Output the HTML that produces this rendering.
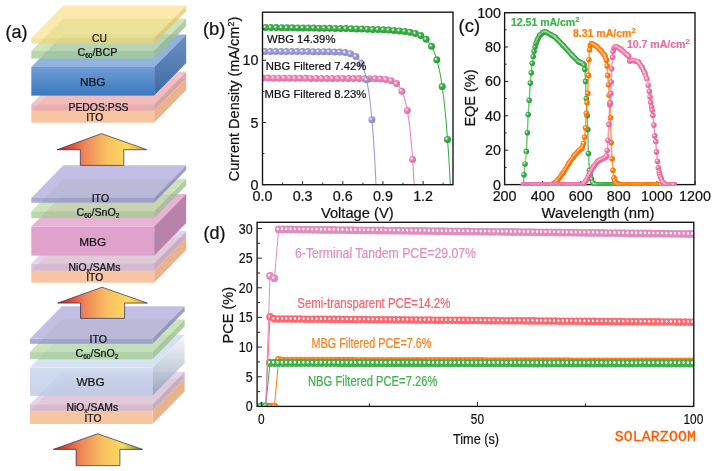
<!DOCTYPE html>
<html><head><meta charset="utf-8"><title>figure</title>
<style>html,body{margin:0;padding:0;background:#fff;}svg{display:block;will-change:transform;font-family:"Liberation Sans",sans-serif;}</style>
</head><body>
<svg width="716" height="471" viewBox="0 0 716 471">
<defs>
<radialGradient id="sg" cx="0.36" cy="0.38" r="0.62" fx="0.36" fy="0.38"><stop offset="0" stop-color="#fff"/><stop offset="0.12" stop-color="#c9efc9"/><stop offset="0.38" stop-color="#3fb24a"/><stop offset="1" stop-color="#2a9a38"/></radialGradient>
<radialGradient id="sb" cx="0.36" cy="0.38" r="0.62" fx="0.36" fy="0.38"><stop offset="0" stop-color="#fff"/><stop offset="0.12" stop-color="#e4e4f7"/><stop offset="0.38" stop-color="#9d9dd6"/><stop offset="1" stop-color="#8a8acb"/></radialGradient>
<radialGradient id="sp" cx="0.36" cy="0.38" r="0.62" fx="0.36" fy="0.38"><stop offset="0" stop-color="#fff"/><stop offset="0.12" stop-color="#fbd3e6"/><stop offset="0.38" stop-color="#ea86b6"/><stop offset="1" stop-color="#e070a6"/></radialGradient>
<radialGradient id="sp2" cx="0.36" cy="0.38" r="0.62" fx="0.36" fy="0.38"><stop offset="0" stop-color="#fff"/><stop offset="0.12" stop-color="#fbd3e6"/><stop offset="0.38" stop-color="#ee7aa9"/><stop offset="1" stop-color="#e66398"/></radialGradient>
<radialGradient id="so" cx="0.36" cy="0.38" r="0.62" fx="0.36" fy="0.38"><stop offset="0" stop-color="#fff"/><stop offset="0.12" stop-color="#ffe0bf"/><stop offset="0.38" stop-color="#ff7f0e"/><stop offset="1" stop-color="#f07000"/></radialGradient>
<radialGradient id="rp" cx="0.36" cy="0.42" r="0.5" fx="0.36" fy="0.42" gradientTransform="translate(0.36 0.42) scale(0.85 1) translate(-0.36 -0.42)"><stop offset="0" stop-color="#fff"/><stop offset="0.22" stop-color="#fff"/><stop offset="0.44" stop-color="#e28cbd"/><stop offset="1" stop-color="#e28cbd"/></radialGradient>
<radialGradient id="rr" cx="0.36" cy="0.42" r="0.5" fx="0.36" fy="0.42" gradientTransform="translate(0.36 0.42) scale(0.85 1) translate(-0.36 -0.42)"><stop offset="0" stop-color="#fff"/><stop offset="0.22" stop-color="#fff"/><stop offset="0.44" stop-color="#ff676e"/><stop offset="1" stop-color="#ff676e"/></radialGradient>
<radialGradient id="ro" cx="0.36" cy="0.42" r="0.5" fx="0.36" fy="0.42" gradientTransform="translate(0.36 0.42) scale(0.85 1) translate(-0.36 -0.42)"><stop offset="0" stop-color="#fff"/><stop offset="0.22" stop-color="#fff"/><stop offset="0.44" stop-color="#ff7f0e"/><stop offset="1" stop-color="#ff7f0e"/></radialGradient>
<radialGradient id="rg" cx="0.36" cy="0.42" r="0.5" fx="0.36" fy="0.42" gradientTransform="translate(0.36 0.42) scale(0.85 1) translate(-0.36 -0.42)"><stop offset="0" stop-color="#fff"/><stop offset="0.22" stop-color="#fff"/><stop offset="0.44" stop-color="#3fb24a"/><stop offset="1" stop-color="#3fb24a"/></radialGradient>
<linearGradient id="arr" x1="0" x2="1" y1="0" y2="0"><stop offset="0" stop-color="#d01414"/><stop offset="0.3" stop-color="#ee8456"/><stop offset="0.55" stop-color="#f8bf62"/><stop offset="0.78" stop-color="#fcd95c"/><stop offset="1" stop-color="#f0a030"/></linearGradient>
<linearGradient id="arr3" x1="0" x2="1" y1="0" y2="0"><stop offset="0" stop-color="#d01414"/><stop offset="0.3" stop-color="#ee8456"/><stop offset="0.55" stop-color="#f8bf62"/><stop offset="0.78" stop-color="#fcd95c"/><stop offset="1" stop-color="#6a8a20"/></linearGradient>
<linearGradient id="nbgf" x1="0" x2="0" y1="0" y2="1"><stop offset="0" stop-color="#6f9dd6"/><stop offset="1" stop-color="#3a78bf"/></linearGradient>
<linearGradient id="nbgr" x1="0" x2="0" y1="0" y2="1"><stop offset="0" stop-color="#6e8fbf"/><stop offset="1" stop-color="#3c6ca6"/></linearGradient>
<linearGradient id="wbgr" x1="0" x2="0" y1="0" y2="1"><stop offset="0" stop-color="#f4f6fa"/><stop offset="1" stop-color="#8fa2bd"/></linearGradient>
<linearGradient id="wbgf" x1="0" x2="0" y1="0" y2="1"><stop offset="0" stop-color="#c9d8ee"/><stop offset="1" stop-color="#bccbe6"/></linearGradient>
</defs>
<rect width="716" height="471" fill="#fff"/>
<g opacity="0.999">
<g opacity="1.0"><polygon points="31.3,111 154.2,111 186.2,78.4 63.3,78.4" fill="#f9d2b3"/><polygon points="154.2,111 186.2,78.4 186.2,90.10000000000001 154.2,122.7" fill="#e9b38c"/><rect x="31.3" y="111" width="122.89999999999999" height="11.7" fill="#f7c5a2"/></g>
<g opacity="0.8"><polygon points="31.3,104.4 154.2,104.4 186.2,71.80000000000001 63.3,71.80000000000001" fill="#efb8bf"/><polygon points="154.2,104.4 186.2,71.80000000000001 186.2,78.20000000000002 154.2,110.80000000000001" fill="#d695a2"/><rect x="31.3" y="104.4" width="122.89999999999999" height="6.4" fill="#e6a4b0"/></g>
<g opacity="1.0"><polygon points="31.3,67 154.2,67 186.2,34.4 63.3,34.4" fill="#92b3de"/><polygon points="154.2,67 186.2,34.4 186.2,63.0 154.2,95.6" fill="url(#nbgr)"/><rect x="31.3" y="67" width="122.89999999999999" height="28.6" fill="url(#nbgf)"/></g>
<g opacity="0.8"><polygon points="31.3,51 154.2,51 186.2,18.4 63.3,18.4" fill="#c0dcac"/><polygon points="154.2,51 186.2,18.4 186.2,26.0 154.2,58.6" fill="#9dc08b"/><rect x="31.3" y="51" width="122.89999999999999" height="7.6" fill="#a6cd95"/></g>
<g opacity="0.7"><polygon points="31.3,38.2 154.2,38.2 186.2,5.600000000000001 63.3,5.600000000000001" fill="#fbe08a"/><polygon points="154.2,38.2 186.2,5.600000000000001 186.2,11.000000000000002 154.2,43.6" fill="#e2c25e"/><rect x="31.3" y="38.2" width="122.89999999999999" height="5.4" fill="#f3d470"/></g>
<text x="99.4" y="42.4" font-size="10.2" text-anchor="middle" fill="#111" stroke="#111" stroke-width="0.22" font-weight="normal" >CU</text>
<text x="97.4" y="55.5" font-size="10.7" text-anchor="middle" fill="#111" stroke="#111" stroke-width="0.22" font-weight="normal" >C<tspan font-size="6.5" dy="2">60</tspan><tspan dy="-2">/BCP</tspan></text>
<text x="92.7" y="86" font-size="11.8" text-anchor="middle" fill="#111" stroke="#111" stroke-width="0.22" font-weight="normal" >NBG</text>
<text x="98.5" y="111" font-size="10.4" text-anchor="middle" fill="#111" stroke="#111" stroke-width="0.22" font-weight="normal" >PEDOS:PSS</text>
<text x="94.7" y="121.3" font-size="10.3" text-anchor="middle" fill="#111" stroke="#111" stroke-width="0.22" font-weight="normal" >ITO</text>
<g opacity="1.0"><polygon points="31.3,270.7 154.2,270.7 186.2,238.1 63.3,238.1" fill="#f9d2b3"/><polygon points="154.2,270.7 186.2,238.1 186.2,250.1 154.2,282.7" fill="#e9b38c"/><rect x="31.3" y="270.7" width="122.89999999999999" height="12" fill="#f7c5a2"/></g>
<g opacity="0.78"><polygon points="31.3,263.6 154.2,263.6 186.2,231.00000000000003 63.3,231.00000000000003" fill="#dac8e6"/><polygon points="154.2,263.6 186.2,231.00000000000003 186.2,238.10000000000002 154.2,270.70000000000005" fill="#baa2c9"/><rect x="31.3" y="263.6" width="122.89999999999999" height="7.1" fill="#cab2d9"/></g>
<g opacity="1.0"><polygon points="31.3,226.5 154.2,226.5 186.2,193.9 63.3,193.9" fill="#e9b3d6"/><polygon points="154.2,226.5 186.2,193.9 186.2,223.0 154.2,255.6" fill="#b883aa"/><rect x="31.3" y="226.5" width="122.89999999999999" height="29.1" fill="#dea2cd"/></g>
<g opacity="0.8"><polygon points="31.3,211.4 154.2,211.4 186.2,178.8 63.3,178.8" fill="#c0dcac"/><polygon points="154.2,211.4 186.2,178.8 186.2,185.5 154.2,218.1" fill="#9dc08b"/><rect x="31.3" y="211.4" width="122.89999999999999" height="6.7" fill="#a6cd95"/></g>
<g opacity="0.82"><polygon points="31.3,197.9 154.2,197.9 186.2,165.3 63.3,165.3" fill="#b6b1de"/><polygon points="154.2,197.9 186.2,165.3 186.2,170.10000000000002 154.2,202.70000000000002" fill="#8a86be"/><rect x="31.3" y="197.9" width="122.89999999999999" height="4.8" fill="#9a96cf"/></g>
<text x="100.4" y="201.8" font-size="10.6" text-anchor="middle" fill="#111" stroke="#111" stroke-width="0.22" font-weight="normal" >ITO</text>
<text x="98" y="215.5" font-size="10.7" text-anchor="middle" fill="#111" stroke="#111" stroke-width="0.22" font-weight="normal" >C<tspan font-size="6.5" dy="2">60</tspan><tspan dy="-2">/SnO</tspan><tspan font-size="6.5" dy="2">2</tspan></text>
<text x="92.7" y="245.5" font-size="11.8" text-anchor="middle" fill="#111" stroke="#111" stroke-width="0.22" font-weight="normal" >MBG</text>
<text x="94.5" y="270.7" font-size="10.4" text-anchor="middle" fill="#111" stroke="#111" stroke-width="0.22" font-weight="normal" >NiO<tspan font-size="6.5" dy="2">x</tspan><tspan dy="-2">/SAMs</tspan></text>
<text x="94.7" y="281.1" font-size="10.3" text-anchor="middle" fill="#111" stroke="#111" stroke-width="0.22" font-weight="normal" >ITO</text>
<g opacity="1.0"><polygon points="29.9,411 152.6,411 184.6,378.4 61.9,378.4" fill="#f9d2b3"/><polygon points="152.6,411 184.6,378.4 184.6,391.4 152.6,424" fill="#e9b38c"/><rect x="29.9" y="411" width="122.69999999999999" height="13" fill="#f7c5a2"/></g>
<g opacity="0.78"><polygon points="29.9,404.4 152.6,404.4 184.6,371.79999999999995 61.9,371.79999999999995" fill="#dac8e6"/><polygon points="152.6,404.4 184.6,371.79999999999995 184.6,378.19999999999993 152.6,410.79999999999995" fill="#baa2c9"/><rect x="29.9" y="404.4" width="122.69999999999999" height="6.4" fill="#cab2d9"/></g>
<g opacity="0.85"><polygon points="29.9,367.6 152.6,367.6 184.6,335.0 61.9,335.0" fill="#cfdcf0"/><polygon points="152.6,367.6 184.6,335.0 184.6,363.2 152.6,395.8" fill="url(#wbgr)"/><rect x="29.9" y="367.6" width="122.69999999999999" height="28.2" fill="url(#wbgf)"/></g>
<g opacity="0.8"><polygon points="29.9,352.1 152.6,352.1 184.6,319.5 61.9,319.5" fill="#c0dcac"/><polygon points="152.6,352.1 184.6,319.5 184.6,326.6 152.6,359.20000000000005" fill="#9dc08b"/><rect x="29.9" y="352.1" width="122.69999999999999" height="7.1" fill="#a6cd95"/></g>
<g opacity="0.82"><polygon points="29.9,338.8 152.6,338.8 184.6,306.2 61.9,306.2" fill="#b6b1de"/><polygon points="152.6,338.8 184.6,306.2 184.6,311.2 152.6,343.8" fill="#8a86be"/><rect x="29.9" y="338.8" width="122.69999999999999" height="5" fill="#9a96cf"/></g>
<text x="98.2" y="343.3" font-size="10.6" text-anchor="middle" fill="#111" stroke="#111" stroke-width="0.22" font-weight="normal" >ITO</text>
<text x="97" y="356.5" font-size="10.7" text-anchor="middle" fill="#111" stroke="#111" stroke-width="0.22" font-weight="normal" >C<tspan font-size="6.5" dy="2">60</tspan><tspan dy="-2">/SnO</tspan><tspan font-size="6.5" dy="2">2</tspan></text>
<text x="90.5" y="386" font-size="11.8" text-anchor="middle" fill="#111" stroke="#111" stroke-width="0.22" font-weight="normal" >WBG</text>
<text x="92.3" y="411.3" font-size="10.4" text-anchor="middle" fill="#111" stroke="#111" stroke-width="0.22" font-weight="normal" >NiO<tspan font-size="6.5" dy="2">x</tspan><tspan dy="-2">/SAMs</tspan></text>
<text x="93" y="421.8" font-size="10.3" text-anchor="middle" fill="#111" stroke="#111" stroke-width="0.22" font-weight="normal" >ITO</text>
<polygon points="101.5,133.6 146.7,149.7 123.8,149.7 123.8,165.4 80.3,165.4 80.3,149.7 57,149.7" fill="url(#arr)" stroke="#1f2a5a" stroke-width="0.7" stroke-linejoin="miter"/>
<polygon points="102,287.2 147.4,303.1 124.6,303.1 124.6,318.4 80.5,318.4 80.5,303.1 57.7,303.1" fill="url(#arr)" stroke="#1f2a5a" stroke-width="0.7" stroke-linejoin="miter"/>
<polygon points="97.6,433.8 142.6,449.4 119.9,449.4 119.9,465.6 76.1,465.6 76.1,449.4 53.2,449.4" fill="url(#arr3)" stroke="#1f2a5a" stroke-width="0.7" stroke-linejoin="miter"/>
<text x="5.6" y="38.2" font-size="18" text-anchor="start" fill="#111" stroke="#111" stroke-width="0.22" font-weight="normal" >(a)</text>
<text x="203.0" y="34.6" font-size="18.4" text-anchor="start" fill="#111" stroke="#111" stroke-width="0.22" font-weight="normal" >(b)</text>
<text x="458.6" y="31.8" font-size="18.4" text-anchor="start" fill="#111" stroke="#111" stroke-width="0.22" font-weight="normal" >(c)</text>
<text x="203.5" y="238.6" font-size="18" text-anchor="start" fill="#111" stroke="#111" stroke-width="0.22" font-weight="normal" >(d)</text>
<clipPath id="cb"><rect x="262.5" y="12.2" width="190.5" height="173.0"/></clipPath>
<g clip-path="url(#cb)">
<polyline fill="none" stroke="#ea86b6" stroke-width="1.1" points="262.5,78.1 263.2,78.1 263.8,78.1 264.5,78.1 265.2,78.1 265.8,78.1 266.5,78.1 267.2,78.1 267.9,78.1 268.5,78.1 269.2,78.1 269.9,78.1 270.5,78.1 271.2,78.1 271.9,78.1 272.5,78.1 273.2,78.1 273.9,78.2 274.5,78.2 275.2,78.2 275.9,78.2 276.5,78.2 277.2,78.2 277.9,78.2 278.6,78.2 279.2,78.2 279.9,78.2 280.6,78.2 281.2,78.2 281.9,78.2 282.6,78.2 283.2,78.2 283.9,78.2 284.6,78.2 285.2,78.2 285.9,78.2 286.6,78.2 287.3,78.2 287.9,78.2 288.6,78.2 289.3,78.2 289.9,78.2 290.6,78.2 291.3,78.2 291.9,78.3 292.6,78.3 293.3,78.3 293.9,78.3 294.6,78.3 295.3,78.3 295.9,78.3 296.6,78.3 297.3,78.3 298.0,78.3 298.6,78.3 299.3,78.3 300.0,78.3 300.6,78.3 301.3,78.3 302.0,78.3 302.6,78.3 303.3,78.3 304.0,78.3 304.6,78.3 305.3,78.3 306.0,78.3 306.7,78.3 307.3,78.3 308.0,78.3 308.7,78.3 309.3,78.4 310.0,78.4 310.7,78.4 311.3,78.4 312.0,78.4 312.7,78.4 313.3,78.4 314.0,78.4 314.7,78.4 315.4,78.4 316.0,78.4 316.7,78.4 317.4,78.4 318.0,78.4 318.7,78.4 319.4,78.4 320.0,78.4 320.7,78.4 321.4,78.4 322.0,78.4 322.7,78.4 323.4,78.4 324.0,78.4 324.7,78.4 325.4,78.4 326.1,78.4 326.7,78.4 327.4,78.5 328.1,78.5 328.7,78.5 329.4,78.5 330.1,78.5 330.7,78.5 331.4,78.5 332.1,78.5 332.7,78.5 333.4,78.5 334.1,78.5 334.8,78.5 335.4,78.5 336.1,78.5 336.8,78.5 337.4,78.5 338.1,78.5 338.8,78.5 339.4,78.5 340.1,78.5 340.8,78.5 341.4,78.5 342.1,78.5 342.8,78.5 343.4,78.5 344.1,78.5 344.8,78.5 345.5,78.6 346.1,78.6 346.8,78.6 347.5,78.6 348.1,78.6 348.8,78.6 349.5,78.6 350.1,78.6 350.8,78.6 351.5,78.6 352.1,78.6 352.8,78.6 353.5,78.6 354.2,78.6 354.8,78.6 355.5,78.6 356.2,78.6 356.8,78.6 357.5,78.6 358.2,78.6 358.8,78.6 359.5,78.6 360.2,78.6 360.8,78.6 361.5,78.7 362.2,78.7 362.9,78.7 363.5,78.7 364.2,78.7 364.9,78.7 365.5,78.7 366.2,78.7 366.9,78.7 367.5,78.7 368.2,78.7 368.9,78.7 369.5,78.7 370.2,78.7 370.9,78.7 371.5,78.8 372.2,78.8 372.9,78.8 373.6,78.8 374.2,78.8 374.9,78.8 375.6,78.8 376.2,78.9 376.9,78.9 377.6,78.9 378.2,78.9 378.9,79.0 379.6,79.0 380.2,79.0 380.9,79.1 381.6,79.1 382.3,79.1 382.9,79.2 383.6,79.3 384.3,79.3 384.9,79.4 385.6,79.5 386.3,79.6 386.9,79.7 387.6,79.8 388.3,79.9 388.9,80.1 389.6,80.2 390.3,80.4 390.9,80.6 391.6,80.8 392.3,81.1 393.0,81.4 393.6,81.7 394.3,82.1 395.0,82.5 395.6,82.9 396.3,83.4 397.0,84.0 397.6,84.6 398.3,85.4 399.0,86.2 399.6,87.1 400.3,88.1 401.0,89.3 401.7,90.6 402.3,92.1 403.0,93.7 403.7,95.6 404.3,97.7 405.0,100.0 405.7,102.6 406.3,105.6 407.0,108.9 407.7,112.7 408.3,116.9 409.0,121.6 409.7,126.9 410.3,132.9 411.0,139.6 411.7,147.2 412.4,155.7 413.0,165.3 413.7,176.0 414.4,188.1"/>
<circle cx="257.4" cy="78.1" r="3.5" fill="url(#sp)"/>
<circle cx="262.8" cy="78.1" r="3.5" fill="url(#sp)"/>
<circle cx="268.1" cy="78.1" r="3.5" fill="url(#sp)"/>
<circle cx="273.5" cy="78.2" r="3.5" fill="url(#sp)"/>
<circle cx="278.8" cy="78.2" r="3.5" fill="url(#sp)"/>
<circle cx="284.2" cy="78.2" r="3.5" fill="url(#sp)"/>
<circle cx="289.5" cy="78.2" r="3.5" fill="url(#sp)"/>
<circle cx="294.9" cy="78.3" r="3.5" fill="url(#sp)"/>
<circle cx="300.2" cy="78.3" r="3.5" fill="url(#sp)"/>
<circle cx="305.6" cy="78.3" r="3.5" fill="url(#sp)"/>
<circle cx="310.9" cy="78.4" r="3.5" fill="url(#sp)"/>
<circle cx="316.3" cy="78.4" r="3.5" fill="url(#sp)"/>
<circle cx="321.6" cy="78.4" r="3.5" fill="url(#sp)"/>
<circle cx="327.0" cy="78.4" r="3.5" fill="url(#sp)"/>
<circle cx="332.3" cy="78.5" r="3.5" fill="url(#sp)"/>
<circle cx="337.7" cy="78.5" r="3.5" fill="url(#sp)"/>
<circle cx="343.0" cy="78.5" r="3.5" fill="url(#sp)"/>
<circle cx="348.4" cy="78.6" r="3.5" fill="url(#sp)"/>
<circle cx="353.8" cy="78.6" r="3.5" fill="url(#sp)"/>
<circle cx="359.1" cy="78.6" r="3.5" fill="url(#sp)"/>
<circle cx="364.5" cy="78.7" r="3.5" fill="url(#sp)"/>
<circle cx="369.8" cy="78.7" r="3.5" fill="url(#sp)"/>
<circle cx="375.2" cy="78.8" r="3.5" fill="url(#sp)"/>
<circle cx="380.5" cy="79.0" r="3.5" fill="url(#sp)"/>
<circle cx="385.9" cy="79.5" r="3.5" fill="url(#sp)"/>
<circle cx="391.2" cy="80.7" r="3.5" fill="url(#sp)"/>
<circle cx="396.6" cy="83.6" r="3.5" fill="url(#sp)"/>
<circle cx="401.9" cy="91.2" r="3.5" fill="url(#sp)"/>
<circle cx="407.3" cy="110.4" r="3.5" fill="url(#sp)"/>
<circle cx="412.6" cy="159.4" r="3.5" fill="url(#sp)"/>
</g>
<g clip-path="url(#cb)">
<polyline fill="none" stroke="#9d9dd6" stroke-width="1.1" points="262.5,51.5 263.2,51.5 263.8,51.5 264.5,51.5 265.2,51.5 265.8,51.5 266.5,51.5 267.2,51.5 267.9,51.5 268.5,51.5 269.2,51.5 269.9,51.5 270.5,51.5 271.2,51.5 271.9,51.5 272.5,51.5 273.2,51.5 273.9,51.5 274.5,51.5 275.2,51.5 275.9,51.5 276.5,51.5 277.2,51.5 277.9,51.5 278.6,51.5 279.2,51.5 279.9,51.5 280.6,51.5 281.2,51.5 281.9,51.5 282.6,51.5 283.2,51.5 283.9,51.5 284.6,51.5 285.2,51.6 285.9,51.6 286.6,51.6 287.3,51.6 287.9,51.6 288.6,51.6 289.3,51.6 289.9,51.6 290.6,51.6 291.3,51.6 291.9,51.6 292.6,51.6 293.3,51.6 293.9,51.6 294.6,51.6 295.3,51.6 295.9,51.6 296.6,51.6 297.3,51.6 298.0,51.6 298.6,51.6 299.3,51.6 300.0,51.6 300.6,51.6 301.3,51.6 302.0,51.6 302.6,51.6 303.3,51.6 304.0,51.6 304.6,51.6 305.3,51.6 306.0,51.6 306.7,51.6 307.3,51.6 308.0,51.6 308.7,51.6 309.3,51.6 310.0,51.6 310.7,51.6 311.3,51.7 312.0,51.7 312.7,51.7 313.3,51.7 314.0,51.7 314.7,51.7 315.4,51.7 316.0,51.7 316.7,51.7 317.4,51.7 318.0,51.7 318.7,51.7 319.4,51.7 320.0,51.7 320.7,51.7 321.4,51.7 322.0,51.7 322.7,51.7 323.4,51.7 324.0,51.7 324.7,51.7 325.4,51.7 326.1,51.7 326.7,51.7 327.4,51.8 328.1,51.8 328.7,51.8 329.4,51.8 330.1,51.8 330.7,51.8 331.4,51.8 332.1,51.8 332.7,51.8 333.4,51.8 334.1,51.9 334.8,51.9 335.4,51.9 336.1,51.9 336.8,51.9 337.4,52.0 338.1,52.0 338.8,52.0 339.4,52.1 340.1,52.1 340.8,52.1 341.4,52.2 342.1,52.2 342.8,52.3 343.4,52.4 344.1,52.4 344.8,52.5 345.5,52.6 346.1,52.7 346.8,52.8 347.5,52.9 348.1,53.1 348.8,53.2 349.5,53.4 350.1,53.6 350.8,53.8 351.5,54.1 352.1,54.3 352.8,54.6 353.5,55.0 354.2,55.3 354.8,55.8 355.5,56.2 356.2,56.7 356.8,57.3 357.5,58.0 358.2,58.7 358.8,59.5 359.5,60.4 360.2,61.4 360.8,62.6 361.5,63.8 362.2,65.2 362.9,66.8 363.5,68.6 364.2,70.6 364.9,72.8 365.5,75.2 366.2,78.0 366.9,81.0 367.5,84.5 368.2,88.3 368.9,92.6 369.5,97.4 370.2,102.7 370.9,108.7 371.5,115.4 372.2,122.9 372.9,131.2 373.6,140.5 374.2,150.9 374.9,162.6 375.6,175.6 376.2,190.1"/>
<circle cx="259.6" cy="51.5" r="3.5" fill="url(#sb)"/>
<circle cx="264.9" cy="51.5" r="3.5" fill="url(#sb)"/>
<circle cx="270.3" cy="51.5" r="3.5" fill="url(#sb)"/>
<circle cx="275.6" cy="51.5" r="3.5" fill="url(#sb)"/>
<circle cx="281.0" cy="51.5" r="3.5" fill="url(#sb)"/>
<circle cx="286.3" cy="51.6" r="3.5" fill="url(#sb)"/>
<circle cx="291.7" cy="51.6" r="3.5" fill="url(#sb)"/>
<circle cx="297.0" cy="51.6" r="3.5" fill="url(#sb)"/>
<circle cx="302.4" cy="51.6" r="3.5" fill="url(#sb)"/>
<circle cx="307.7" cy="51.6" r="3.5" fill="url(#sb)"/>
<circle cx="313.1" cy="51.7" r="3.5" fill="url(#sb)"/>
<circle cx="318.4" cy="51.7" r="3.5" fill="url(#sb)"/>
<circle cx="323.8" cy="51.7" r="3.5" fill="url(#sb)"/>
<circle cx="329.1" cy="51.8" r="3.5" fill="url(#sb)"/>
<circle cx="334.5" cy="51.9" r="3.5" fill="url(#sb)"/>
<circle cx="339.8" cy="52.1" r="3.5" fill="url(#sb)"/>
<circle cx="345.2" cy="52.6" r="3.5" fill="url(#sb)"/>
<circle cx="350.5" cy="53.7" r="3.5" fill="url(#sb)"/>
<circle cx="355.9" cy="56.5" r="3.5" fill="url(#sb)"/>
<circle cx="361.2" cy="63.3" r="3.5" fill="url(#sb)"/>
<circle cx="366.6" cy="79.8" r="3.5" fill="url(#sb)"/>
<circle cx="371.9" cy="119.8" r="3.5" fill="url(#sb)"/>
</g>
<g clip-path="url(#cb)">
<polyline fill="none" stroke="#3fb24a" stroke-width="1.1" points="262.5,27.5 263.2,27.5 263.8,27.5 264.5,27.5 265.2,27.5 265.8,27.5 266.5,27.5 267.2,27.5 267.9,27.5 268.5,27.6 269.2,27.6 269.9,27.6 270.5,27.6 271.2,27.6 271.9,27.6 272.5,27.6 273.2,27.6 273.9,27.6 274.5,27.6 275.2,27.6 275.9,27.6 276.5,27.6 277.2,27.6 277.9,27.7 278.6,27.7 279.2,27.7 279.9,27.7 280.6,27.7 281.2,27.7 281.9,27.7 282.6,27.7 283.2,27.7 283.9,27.7 284.6,27.7 285.2,27.7 285.9,27.7 286.6,27.7 287.3,27.8 287.9,27.8 288.6,27.8 289.3,27.8 289.9,27.8 290.6,27.8 291.3,27.8 291.9,27.8 292.6,27.8 293.3,27.8 293.9,27.8 294.6,27.8 295.3,27.8 295.9,27.9 296.6,27.9 297.3,27.9 298.0,27.9 298.6,27.9 299.3,27.9 300.0,27.9 300.6,27.9 301.3,27.9 302.0,27.9 302.6,27.9 303.3,27.9 304.0,28.0 304.6,28.0 305.3,28.0 306.0,28.0 306.7,28.0 307.3,28.0 308.0,28.0 308.7,28.0 309.3,28.0 310.0,28.0 310.7,28.0 311.3,28.1 312.0,28.1 312.7,28.1 313.3,28.1 314.0,28.1 314.7,28.1 315.4,28.1 316.0,28.1 316.7,28.1 317.4,28.1 318.0,28.1 318.7,28.2 319.4,28.2 320.0,28.2 320.7,28.2 321.4,28.2 322.0,28.2 322.7,28.2 323.4,28.2 324.0,28.2 324.7,28.2 325.4,28.3 326.1,28.3 326.7,28.3 327.4,28.3 328.1,28.3 328.7,28.3 329.4,28.3 330.1,28.3 330.7,28.3 331.4,28.4 332.1,28.4 332.7,28.4 333.4,28.4 334.1,28.4 334.8,28.4 335.4,28.4 336.1,28.4 336.8,28.4 337.4,28.5 338.1,28.5 338.8,28.5 339.4,28.5 340.1,28.5 340.8,28.5 341.4,28.5 342.1,28.5 342.8,28.6 343.4,28.6 344.1,28.6 344.8,28.6 345.5,28.6 346.1,28.6 346.8,28.6 347.5,28.7 348.1,28.7 348.8,28.7 349.5,28.7 350.1,28.7 350.8,28.7 351.5,28.8 352.1,28.8 352.8,28.8 353.5,28.8 354.2,28.8 354.8,28.8 355.5,28.8 356.2,28.9 356.8,28.9 357.5,28.9 358.2,28.9 358.8,28.9 359.5,29.0 360.2,29.0 360.8,29.0 361.5,29.0 362.2,29.0 362.9,29.0 363.5,29.1 364.2,29.1 364.9,29.1 365.5,29.1 366.2,29.1 366.9,29.2 367.5,29.2 368.2,29.2 368.9,29.2 369.5,29.3 370.2,29.3 370.9,29.3 371.5,29.3 372.2,29.3 372.9,29.4 373.6,29.4 374.2,29.4 374.9,29.4 375.6,29.5 376.2,29.5 376.9,29.5 377.6,29.6 378.2,29.6 378.9,29.6 379.6,29.6 380.2,29.7 380.9,29.7 381.6,29.7 382.3,29.8 382.9,29.8 383.6,29.8 384.3,29.9 384.9,29.9 385.6,29.9 386.3,30.0 386.9,30.0 387.6,30.0 388.3,30.1 388.9,30.1 389.6,30.1 390.3,30.2 390.9,30.2 391.6,30.3 392.3,30.3 393.0,30.4 393.6,30.4 394.3,30.4 395.0,30.5 395.6,30.5 396.3,30.6 397.0,30.6 397.6,30.7 398.3,30.8 399.0,30.8 399.6,30.9 400.3,30.9 401.0,31.0 401.7,31.1 402.3,31.1 403.0,31.2 403.7,31.3 404.3,31.4 405.0,31.5 405.7,31.5 406.3,31.6 407.0,31.7 407.7,31.8 408.3,31.9 409.0,32.0 409.7,32.2 410.3,32.3 411.0,32.4 411.7,32.5 412.4,32.7 413.0,32.8 413.7,33.0 414.4,33.2 415.0,33.4 415.7,33.6 416.4,33.8 417.0,34.0 417.7,34.2 418.4,34.5 419.0,34.8 419.7,35.1 420.4,35.4 421.1,35.7 421.7,36.1 422.4,36.5 423.1,36.9 423.7,37.4 424.4,37.8 425.1,38.4 425.7,39.0 426.4,39.6 427.1,40.2 427.7,41.0 428.4,41.8 429.1,42.6 429.8,43.5 430.4,44.5 431.1,45.6 431.8,46.8 432.4,48.1 433.1,49.5 433.8,51.0 434.4,52.6 435.1,54.4 435.8,56.3 436.4,58.4 437.1,60.7 437.8,63.2 438.4,66.0 439.1,68.9 439.8,72.2 440.5,75.7 441.1,79.5 441.8,83.7 442.5,88.2 443.1,93.2 443.8,98.6 444.5,104.5 445.1,111.0 445.8,118.0 446.5,125.7 447.1,134.0 447.8,143.1 448.5,153.1 449.2,164.0 449.8,175.8 450.5,188.7"/>
<circle cx="260.2" cy="27.5" r="3.5" fill="url(#sg)"/>
<circle cx="265.6" cy="27.5" r="3.5" fill="url(#sg)"/>
<circle cx="270.9" cy="27.6" r="3.5" fill="url(#sg)"/>
<circle cx="276.3" cy="27.6" r="3.5" fill="url(#sg)"/>
<circle cx="281.6" cy="27.7" r="3.5" fill="url(#sg)"/>
<circle cx="287.0" cy="27.8" r="3.5" fill="url(#sg)"/>
<circle cx="292.3" cy="27.8" r="3.5" fill="url(#sg)"/>
<circle cx="297.7" cy="27.9" r="3.5" fill="url(#sg)"/>
<circle cx="303.0" cy="27.9" r="3.5" fill="url(#sg)"/>
<circle cx="308.4" cy="28.0" r="3.5" fill="url(#sg)"/>
<circle cx="313.7" cy="28.1" r="3.5" fill="url(#sg)"/>
<circle cx="319.1" cy="28.2" r="3.5" fill="url(#sg)"/>
<circle cx="324.4" cy="28.2" r="3.5" fill="url(#sg)"/>
<circle cx="329.8" cy="28.3" r="3.5" fill="url(#sg)"/>
<circle cx="335.2" cy="28.4" r="3.5" fill="url(#sg)"/>
<circle cx="340.5" cy="28.5" r="3.5" fill="url(#sg)"/>
<circle cx="345.9" cy="28.6" r="3.5" fill="url(#sg)"/>
<circle cx="351.2" cy="28.7" r="3.5" fill="url(#sg)"/>
<circle cx="356.6" cy="28.9" r="3.5" fill="url(#sg)"/>
<circle cx="361.9" cy="29.0" r="3.5" fill="url(#sg)"/>
<circle cx="367.3" cy="29.2" r="3.5" fill="url(#sg)"/>
<circle cx="372.6" cy="29.4" r="3.5" fill="url(#sg)"/>
<circle cx="378.0" cy="29.6" r="3.5" fill="url(#sg)"/>
<circle cx="383.3" cy="29.8" r="3.5" fill="url(#sg)"/>
<circle cx="388.7" cy="30.1" r="3.5" fill="url(#sg)"/>
<circle cx="394.0" cy="30.4" r="3.5" fill="url(#sg)"/>
<circle cx="399.4" cy="30.9" r="3.5" fill="url(#sg)"/>
<circle cx="404.7" cy="31.4" r="3.5" fill="url(#sg)"/>
<circle cx="410.1" cy="32.2" r="3.5" fill="url(#sg)"/>
<circle cx="415.4" cy="33.5" r="3.5" fill="url(#sg)"/>
<circle cx="420.8" cy="35.6" r="3.5" fill="url(#sg)"/>
<circle cx="426.1" cy="39.3" r="3.5" fill="url(#sg)"/>
<circle cx="431.5" cy="46.3" r="3.5" fill="url(#sg)"/>
<circle cx="436.8" cy="59.8" r="3.5" fill="url(#sg)"/>
<circle cx="442.2" cy="86.4" r="3.5" fill="url(#sg)"/>
<circle cx="447.5" cy="139.4" r="3.5" fill="url(#sg)"/>
</g>
<rect x="262.5" y="12.2" width="190.5" height="172.5" fill="none" stroke="#111" stroke-width="1.35"/>
<line x1="262.5" x2="262.5" y1="184.7" y2="181.1" stroke="#222" stroke-width="1"/>
<text x="262.5" y="200.9" font-size="14.3" text-anchor="middle" fill="#111" stroke="#111" stroke-width="0.22" font-weight="normal" >0.0</text>
<line x1="302.6" x2="302.6" y1="184.7" y2="181.1" stroke="#222" stroke-width="1"/>
<text x="302.6" y="200.9" font-size="14.3" text-anchor="middle" fill="#111" stroke="#111" stroke-width="0.22" font-weight="normal" >0.3</text>
<line x1="342.8" x2="342.8" y1="184.7" y2="181.1" stroke="#222" stroke-width="1"/>
<text x="342.8" y="200.9" font-size="14.3" text-anchor="middle" fill="#111" stroke="#111" stroke-width="0.22" font-weight="normal" >0.6</text>
<line x1="382.9" x2="382.9" y1="184.7" y2="181.1" stroke="#222" stroke-width="1"/>
<text x="382.9" y="200.9" font-size="14.3" text-anchor="middle" fill="#111" stroke="#111" stroke-width="0.22" font-weight="normal" >0.9</text>
<line x1="423.1" x2="423.1" y1="184.7" y2="181.1" stroke="#222" stroke-width="1"/>
<text x="423.1" y="200.9" font-size="14.3" text-anchor="middle" fill="#111" stroke="#111" stroke-width="0.22" font-weight="normal" >1.2</text>
<line x1="282.6" x2="282.6" y1="184.7" y2="182.7" stroke="#222" stroke-width="1"/>
<line x1="322.7" x2="322.7" y1="184.7" y2="182.7" stroke="#222" stroke-width="1"/>
<line x1="362.9" x2="362.9" y1="184.7" y2="182.7" stroke="#222" stroke-width="1"/>
<line x1="403.0" x2="403.0" y1="184.7" y2="182.7" stroke="#222" stroke-width="1"/>
<line x1="443.1" x2="443.1" y1="184.7" y2="182.7" stroke="#222" stroke-width="1"/>
<line x1="262.5" x2="266.1" y1="184.7" y2="184.7" stroke="#222" stroke-width="1"/>
<text x="258.5" y="189.7" font-size="14.3" text-anchor="end" fill="#111" stroke="#111" stroke-width="0.22" font-weight="normal" >0</text>
<line x1="262.5" x2="266.1" y1="122.5" y2="122.5" stroke="#222" stroke-width="1"/>
<text x="258.5" y="127.5" font-size="14.3" text-anchor="end" fill="#111" stroke="#111" stroke-width="0.22" font-weight="normal" >5</text>
<line x1="262.5" x2="266.1" y1="60.3" y2="60.3" stroke="#222" stroke-width="1"/>
<text x="258.5" y="65.3" font-size="14.3" text-anchor="end" fill="#111" stroke="#111" stroke-width="0.22" font-weight="normal" >10</text>
<line x1="262.5" x2="264.5" y1="153.6" y2="153.6" stroke="#222" stroke-width="1"/>
<line x1="262.5" x2="264.5" y1="91.4" y2="91.4" stroke="#222" stroke-width="1"/>
<line x1="262.5" x2="264.5" y1="29.2" y2="29.2" stroke="#222" stroke-width="1"/>
<text x="357.3" y="217.7" font-size="14.7" text-anchor="middle" fill="#111" stroke="#111" stroke-width="0.22" font-weight="normal" >Voltage (V)</text>
<text x="238.6" y="99" font-size="14.5" text-anchor="middle" fill="#111" stroke="#111" stroke-width="0.22" font-weight="normal" transform="rotate(-90 238.6 99)" >Current Density (mA/cm<tspan font-size="9" dy="-5">2</tspan><tspan dy="5">)</tspan></text>
<text x="267" y="43" font-size="11.3" text-anchor="start" fill="#111" stroke="#111" stroke-width="0.22" font-weight="normal" >WBG 14.39%</text>
<text x="265.8" y="70" font-size="11.3" text-anchor="start" fill="#111" stroke="#111" stroke-width="0.22" font-weight="normal" >NBG Filtered 7.42%</text>
<text x="264.6" y="98" font-size="11.3" text-anchor="start" fill="#111" stroke="#111" stroke-width="0.22" font-weight="normal" >MBG Filtered 8.23%</text>
<clipPath id="cc"><rect x="504.6" y="12.7" width="190.39999999999998" height="172.8"/></clipPath>
<rect x="504.6" y="12.7" width="190.39999999999998" height="171.9" fill="none" stroke="#111" stroke-width="1.35"/>
<line x1="504.6" x2="504.6" y1="184.6" y2="181.0" stroke="#222" stroke-width="1"/>
<text x="504.6" y="200.9" font-size="14.3" text-anchor="middle" fill="#111" stroke="#111" stroke-width="0.22" font-weight="normal" >200</text>
<line x1="542.7" x2="542.7" y1="184.6" y2="181.0" stroke="#222" stroke-width="1"/>
<text x="542.7" y="200.9" font-size="14.3" text-anchor="middle" fill="#111" stroke="#111" stroke-width="0.22" font-weight="normal" >400</text>
<line x1="580.8" x2="580.8" y1="184.6" y2="181.0" stroke="#222" stroke-width="1"/>
<text x="580.8" y="200.9" font-size="14.3" text-anchor="middle" fill="#111" stroke="#111" stroke-width="0.22" font-weight="normal" >600</text>
<line x1="618.8" x2="618.8" y1="184.6" y2="181.0" stroke="#222" stroke-width="1"/>
<text x="618.8" y="200.9" font-size="14.3" text-anchor="middle" fill="#111" stroke="#111" stroke-width="0.22" font-weight="normal" >800</text>
<line x1="656.9" x2="656.9" y1="184.6" y2="181.0" stroke="#222" stroke-width="1"/>
<text x="656.9" y="200.9" font-size="14.3" text-anchor="middle" fill="#111" stroke="#111" stroke-width="0.22" font-weight="normal" >1000</text>
<line x1="695.0" x2="695.0" y1="184.6" y2="181.0" stroke="#222" stroke-width="1"/>
<text x="695.0" y="200.9" font-size="14.3" text-anchor="middle" fill="#111" stroke="#111" stroke-width="0.22" font-weight="normal" >1200</text>
<line x1="523.6" x2="523.6" y1="184.6" y2="182.6" stroke="#222" stroke-width="1"/>
<line x1="561.7" x2="561.7" y1="184.6" y2="182.6" stroke="#222" stroke-width="1"/>
<line x1="599.8" x2="599.8" y1="184.6" y2="182.6" stroke="#222" stroke-width="1"/>
<line x1="637.9" x2="637.9" y1="184.6" y2="182.6" stroke="#222" stroke-width="1"/>
<line x1="676.0" x2="676.0" y1="184.6" y2="182.6" stroke="#222" stroke-width="1"/>
<line x1="504.6" x2="508.20000000000005" y1="184.6" y2="184.6" stroke="#222" stroke-width="1"/>
<text x="501" y="189.6" font-size="14.3" text-anchor="end" fill="#111" stroke="#111" stroke-width="0.22" font-weight="normal" >0</text>
<line x1="504.6" x2="508.20000000000005" y1="150.2" y2="150.2" stroke="#222" stroke-width="1"/>
<text x="501" y="155.2" font-size="14.3" text-anchor="end" fill="#111" stroke="#111" stroke-width="0.22" font-weight="normal" >20</text>
<line x1="504.6" x2="508.20000000000005" y1="115.8" y2="115.8" stroke="#222" stroke-width="1"/>
<text x="501" y="120.8" font-size="14.3" text-anchor="end" fill="#111" stroke="#111" stroke-width="0.22" font-weight="normal" >40</text>
<line x1="504.6" x2="508.20000000000005" y1="81.4" y2="81.4" stroke="#222" stroke-width="1"/>
<text x="501" y="86.4" font-size="14.3" text-anchor="end" fill="#111" stroke="#111" stroke-width="0.22" font-weight="normal" >60</text>
<line x1="504.6" x2="508.20000000000005" y1="47.0" y2="47.0" stroke="#222" stroke-width="1"/>
<text x="501" y="52.0" font-size="14.3" text-anchor="end" fill="#111" stroke="#111" stroke-width="0.22" font-weight="normal" >80</text>
<line x1="504.6" x2="508.20000000000005" y1="12.6" y2="12.6" stroke="#222" stroke-width="1"/>
<text x="501" y="17.6" font-size="14.3" text-anchor="end" fill="#111" stroke="#111" stroke-width="0.22" font-weight="normal" >100</text>
<line x1="504.6" x2="506.6" y1="167.4" y2="167.4" stroke="#222" stroke-width="1"/>
<line x1="504.6" x2="506.6" y1="133.0" y2="133.0" stroke="#222" stroke-width="1"/>
<line x1="504.6" x2="506.6" y1="98.6" y2="98.6" stroke="#222" stroke-width="1"/>
<line x1="504.6" x2="506.6" y1="64.2" y2="64.2" stroke="#222" stroke-width="1"/>
<line x1="504.6" x2="506.6" y1="29.8" y2="29.8" stroke="#222" stroke-width="1"/>
<g clip-path="url(#cc)">
<polyline fill="none" stroke="#3fb24a" stroke-opacity="0.75" stroke-width="1.5" points="523.6,184.6 524.0,174.8 525.0,164.0 526.3,151.4 527.3,132.7 528.2,114.6 529.2,100.3 530.3,83.1 531.3,72.8 532.2,63.3 533.2,56.5 534.1,51.3 535.1,47.0 536.0,43.6 537.5,39.3 540.0,35.0 542.7,32.6 544.6,31.9 546.5,32.2 555.1,37.0 563.4,45.6 572.0,55.1 578.3,61.4 580.8,62.8 583.0,63.5 584.2,65.1 584.9,69.4 585.5,81.4 586.3,98.6 587.2,115.8 587.8,129.6 588.4,153.6 589.5,170.3 591.4,178.9 592.8,182.7 594.1,184.1 596.0,184.6 618.8,184.6"/>
<circle cx="523.6" cy="184.6" r="2.8" fill="url(#sg)"/>
<circle cx="524.0" cy="174.8" r="2.8" fill="url(#sg)"/>
<circle cx="525.0" cy="164.0" r="2.8" fill="url(#sg)"/>
<circle cx="526.3" cy="151.4" r="2.8" fill="url(#sg)"/>
<circle cx="527.3" cy="132.7" r="2.8" fill="url(#sg)"/>
<circle cx="528.2" cy="114.6" r="2.8" fill="url(#sg)"/>
<circle cx="529.2" cy="100.3" r="2.8" fill="url(#sg)"/>
<circle cx="530.3" cy="83.1" r="2.8" fill="url(#sg)"/>
<circle cx="531.3" cy="72.8" r="2.8" fill="url(#sg)"/>
<circle cx="532.2" cy="63.3" r="2.8" fill="url(#sg)"/>
<circle cx="533.2" cy="56.5" r="2.8" fill="url(#sg)"/>
<circle cx="534.1" cy="51.3" r="2.8" fill="url(#sg)"/>
<circle cx="535.1" cy="47.0" r="2.8" fill="url(#sg)"/>
<circle cx="536.0" cy="43.6" r="2.8" fill="url(#sg)"/>
<circle cx="536.8" cy="41.4" r="2.55" fill="url(#sg)"/>
<circle cx="537.5" cy="39.3" r="2.8" fill="url(#sg)"/>
<circle cx="538.4" cy="37.8" r="2.55" fill="url(#sg)"/>
<circle cx="539.2" cy="36.4" r="2.55" fill="url(#sg)"/>
<circle cx="540.0" cy="35.0" r="2.8" fill="url(#sg)"/>
<circle cx="540.9" cy="34.2" r="2.55" fill="url(#sg)"/>
<circle cx="541.8" cy="33.4" r="2.55" fill="url(#sg)"/>
<circle cx="542.7" cy="32.6" r="2.8" fill="url(#sg)"/>
<circle cx="543.6" cy="32.2" r="2.55" fill="url(#sg)"/>
<circle cx="544.6" cy="31.9" r="2.8" fill="url(#sg)"/>
<circle cx="545.5" cy="32.0" r="2.55" fill="url(#sg)"/>
<circle cx="546.5" cy="32.2" r="2.8" fill="url(#sg)"/>
<circle cx="547.4" cy="32.7" r="2.55" fill="url(#sg)"/>
<circle cx="548.4" cy="33.3" r="2.55" fill="url(#sg)"/>
<circle cx="549.3" cy="33.8" r="2.55" fill="url(#sg)"/>
<circle cx="550.3" cy="34.3" r="2.55" fill="url(#sg)"/>
<circle cx="551.2" cy="34.9" r="2.55" fill="url(#sg)"/>
<circle cx="552.2" cy="35.4" r="2.55" fill="url(#sg)"/>
<circle cx="553.2" cy="36.0" r="2.55" fill="url(#sg)"/>
<circle cx="554.1" cy="36.5" r="2.55" fill="url(#sg)"/>
<circle cx="555.1" cy="37.0" r="2.8" fill="url(#sg)"/>
<circle cx="556.0" cy="38.0" r="2.55" fill="url(#sg)"/>
<circle cx="556.9" cy="38.9" r="2.55" fill="url(#sg)"/>
<circle cx="557.8" cy="39.9" r="2.55" fill="url(#sg)"/>
<circle cx="558.8" cy="40.8" r="2.55" fill="url(#sg)"/>
<circle cx="559.7" cy="41.8" r="2.55" fill="url(#sg)"/>
<circle cx="560.6" cy="42.8" r="2.55" fill="url(#sg)"/>
<circle cx="561.6" cy="43.7" r="2.55" fill="url(#sg)"/>
<circle cx="562.5" cy="44.7" r="2.55" fill="url(#sg)"/>
<circle cx="563.4" cy="45.6" r="2.8" fill="url(#sg)"/>
<circle cx="564.4" cy="46.7" r="2.55" fill="url(#sg)"/>
<circle cx="565.3" cy="47.7" r="2.55" fill="url(#sg)"/>
<circle cx="566.3" cy="48.8" r="2.55" fill="url(#sg)"/>
<circle cx="567.2" cy="49.8" r="2.55" fill="url(#sg)"/>
<circle cx="568.2" cy="50.9" r="2.55" fill="url(#sg)"/>
<circle cx="569.1" cy="51.9" r="2.55" fill="url(#sg)"/>
<circle cx="570.1" cy="53.0" r="2.55" fill="url(#sg)"/>
<circle cx="571.0" cy="54.0" r="2.55" fill="url(#sg)"/>
<circle cx="572.0" cy="55.1" r="2.8" fill="url(#sg)"/>
<circle cx="572.9" cy="56.0" r="2.55" fill="url(#sg)"/>
<circle cx="573.8" cy="56.9" r="2.55" fill="url(#sg)"/>
<circle cx="574.7" cy="57.8" r="2.55" fill="url(#sg)"/>
<circle cx="575.6" cy="58.7" r="2.55" fill="url(#sg)"/>
<circle cx="576.5" cy="59.6" r="2.55" fill="url(#sg)"/>
<circle cx="577.4" cy="60.5" r="2.55" fill="url(#sg)"/>
<circle cx="578.3" cy="61.4" r="2.8" fill="url(#sg)"/>
<circle cx="579.1" cy="61.9" r="2.55" fill="url(#sg)"/>
<circle cx="579.9" cy="62.4" r="2.55" fill="url(#sg)"/>
<circle cx="580.8" cy="62.8" r="2.8" fill="url(#sg)"/>
<circle cx="581.9" cy="63.2" r="2.55" fill="url(#sg)"/>
<circle cx="583.0" cy="63.5" r="2.8" fill="url(#sg)"/>
<circle cx="584.2" cy="65.1" r="2.8" fill="url(#sg)"/>
<circle cx="584.9" cy="69.4" r="2.8" fill="url(#sg)"/>
<circle cx="585.5" cy="81.4" r="2.8" fill="url(#sg)"/>
<circle cx="586.3" cy="98.6" r="2.8" fill="url(#sg)"/>
<circle cx="587.2" cy="115.8" r="2.8" fill="url(#sg)"/>
<circle cx="587.8" cy="129.6" r="2.8" fill="url(#sg)"/>
<circle cx="588.4" cy="153.6" r="2.8" fill="url(#sg)"/>
<circle cx="589.5" cy="170.3" r="2.8" fill="url(#sg)"/>
<circle cx="590.5" cy="174.6" r="2.55" fill="url(#sg)"/>
<circle cx="591.4" cy="178.9" r="2.8" fill="url(#sg)"/>
<circle cx="592.8" cy="182.7" r="2.8" fill="url(#sg)"/>
<circle cx="594.1" cy="184.1" r="2.8" fill="url(#sg)"/>
<circle cx="595.0" cy="184.3" r="2.55" fill="url(#sg)"/>
<circle cx="596.0" cy="184.6" r="2.8" fill="url(#sg)"/>
<circle cx="596.9" cy="184.6" r="2.55" fill="url(#sg)"/>
<circle cx="597.9" cy="184.6" r="2.55" fill="url(#sg)"/>
<circle cx="598.8" cy="184.6" r="2.55" fill="url(#sg)"/>
<circle cx="599.8" cy="184.6" r="2.55" fill="url(#sg)"/>
<circle cx="600.8" cy="184.6" r="2.55" fill="url(#sg)"/>
<circle cx="601.7" cy="184.6" r="2.55" fill="url(#sg)"/>
<circle cx="602.7" cy="184.6" r="2.55" fill="url(#sg)"/>
<circle cx="603.6" cy="184.6" r="2.55" fill="url(#sg)"/>
<circle cx="604.6" cy="184.6" r="2.55" fill="url(#sg)"/>
<circle cx="605.5" cy="184.6" r="2.55" fill="url(#sg)"/>
<circle cx="606.5" cy="184.6" r="2.55" fill="url(#sg)"/>
<circle cx="607.4" cy="184.6" r="2.55" fill="url(#sg)"/>
<circle cx="608.4" cy="184.6" r="2.55" fill="url(#sg)"/>
<circle cx="609.3" cy="184.6" r="2.55" fill="url(#sg)"/>
<circle cx="610.3" cy="184.6" r="2.55" fill="url(#sg)"/>
<circle cx="611.2" cy="184.6" r="2.55" fill="url(#sg)"/>
<circle cx="612.2" cy="184.6" r="2.55" fill="url(#sg)"/>
<circle cx="613.1" cy="184.6" r="2.55" fill="url(#sg)"/>
<circle cx="614.1" cy="184.6" r="2.55" fill="url(#sg)"/>
<circle cx="615.0" cy="184.6" r="2.55" fill="url(#sg)"/>
<circle cx="616.0" cy="184.6" r="2.55" fill="url(#sg)"/>
<circle cx="616.9" cy="184.6" r="2.55" fill="url(#sg)"/>
<circle cx="617.9" cy="184.6" r="2.55" fill="url(#sg)"/>
<circle cx="618.8" cy="184.6" r="2.8" fill="url(#sg)"/>
<line x1="524.7" y1="163.5" x2="526.0" y2="150.9" stroke="#fff" stroke-opacity="0.33" stroke-width="1.5" stroke-linecap="round"/>
<line x1="535.7" y1="43.1" x2="537.2" y2="38.8" stroke="#fff" stroke-opacity="0.33" stroke-width="1.5" stroke-linecap="round"/>
<line x1="537.2" y1="38.8" x2="539.7" y2="34.5" stroke="#fff" stroke-opacity="0.33" stroke-width="1.5" stroke-linecap="round"/>
<line x1="539.7" y1="34.5" x2="542.4" y2="32.1" stroke="#fff" stroke-opacity="0.33" stroke-width="1.5" stroke-linecap="round"/>
<line x1="542.4" y1="32.1" x2="544.3" y2="31.4" stroke="#fff" stroke-opacity="0.33" stroke-width="1.5" stroke-linecap="round"/>
<line x1="544.3" y1="31.4" x2="546.2" y2="31.7" stroke="#fff" stroke-opacity="0.33" stroke-width="1.5" stroke-linecap="round"/>
<line x1="546.2" y1="31.7" x2="554.8" y2="36.5" stroke="#fff" stroke-opacity="0.33" stroke-width="1.5" stroke-linecap="round"/>
<line x1="554.8" y1="36.5" x2="563.1" y2="45.1" stroke="#fff" stroke-opacity="0.33" stroke-width="1.5" stroke-linecap="round"/>
<line x1="563.1" y1="45.1" x2="571.7" y2="54.6" stroke="#fff" stroke-opacity="0.33" stroke-width="1.5" stroke-linecap="round"/>
<line x1="571.7" y1="54.6" x2="578.0" y2="60.9" stroke="#fff" stroke-opacity="0.33" stroke-width="1.5" stroke-linecap="round"/>
<line x1="578.0" y1="60.9" x2="580.5" y2="62.3" stroke="#fff" stroke-opacity="0.33" stroke-width="1.5" stroke-linecap="round"/>
<line x1="580.5" y1="62.3" x2="582.7" y2="63.0" stroke="#fff" stroke-opacity="0.33" stroke-width="1.5" stroke-linecap="round"/>
<line x1="589.2" y1="169.8" x2="591.1" y2="178.4" stroke="#fff" stroke-opacity="0.33" stroke-width="1.5" stroke-linecap="round"/>
<line x1="591.1" y1="178.4" x2="592.5" y2="182.2" stroke="#fff" stroke-opacity="0.33" stroke-width="1.5" stroke-linecap="round"/>
<line x1="592.5" y1="182.2" x2="593.8" y2="183.6" stroke="#fff" stroke-opacity="0.33" stroke-width="1.5" stroke-linecap="round"/>
<line x1="593.8" y1="183.6" x2="595.7" y2="184.1" stroke="#fff" stroke-opacity="0.33" stroke-width="1.5" stroke-linecap="round"/>
</g>
<g clip-path="url(#cc)">
<polyline fill="none" stroke="#ff7f0e" stroke-opacity="0.75" stroke-width="1.5" points="523.6,184.6 551.6,184.6 554.1,183.4 557.3,180.6 563.1,173.1 568.8,163.4 574.7,155.0 579.2,150.2 582.1,148.0 583.6,143.3 584.6,137.1 585.5,127.8 586.3,113.2 587.0,102.6 587.8,93.4 588.4,75.4 588.9,59.7 589.5,49.8 590.3,45.3 591.4,43.6 593.1,44.2 596.2,46.1 601.1,50.8 604.9,55.6 606.5,60.2 607.2,65.9 607.8,75.4 608.6,84.8 609.1,95.3 609.9,103.1 610.5,117.7 611.2,142.8 612.1,158.8 612.9,170.2 614.0,177.9 614.8,180.6 616.0,183.2 617.9,184.6 660.7,184.6"/>
<circle cx="523.6" cy="184.6" r="2.8" fill="url(#so)"/>
<circle cx="524.6" cy="184.6" r="2.55" fill="url(#so)"/>
<circle cx="525.6" cy="184.6" r="2.55" fill="url(#so)"/>
<circle cx="526.5" cy="184.6" r="2.55" fill="url(#so)"/>
<circle cx="527.5" cy="184.6" r="2.55" fill="url(#so)"/>
<circle cx="528.5" cy="184.6" r="2.55" fill="url(#so)"/>
<circle cx="529.4" cy="184.6" r="2.55" fill="url(#so)"/>
<circle cx="530.4" cy="184.6" r="2.55" fill="url(#so)"/>
<circle cx="531.4" cy="184.6" r="2.55" fill="url(#so)"/>
<circle cx="532.3" cy="184.6" r="2.55" fill="url(#so)"/>
<circle cx="533.3" cy="184.6" r="2.55" fill="url(#so)"/>
<circle cx="534.3" cy="184.6" r="2.55" fill="url(#so)"/>
<circle cx="535.2" cy="184.6" r="2.55" fill="url(#so)"/>
<circle cx="536.2" cy="184.6" r="2.55" fill="url(#so)"/>
<circle cx="537.2" cy="184.6" r="2.55" fill="url(#so)"/>
<circle cx="538.1" cy="184.6" r="2.55" fill="url(#so)"/>
<circle cx="539.1" cy="184.6" r="2.55" fill="url(#so)"/>
<circle cx="540.0" cy="184.6" r="2.55" fill="url(#so)"/>
<circle cx="541.0" cy="184.6" r="2.55" fill="url(#so)"/>
<circle cx="542.0" cy="184.6" r="2.55" fill="url(#so)"/>
<circle cx="542.9" cy="184.6" r="2.55" fill="url(#so)"/>
<circle cx="543.9" cy="184.6" r="2.55" fill="url(#so)"/>
<circle cx="544.9" cy="184.6" r="2.55" fill="url(#so)"/>
<circle cx="545.8" cy="184.6" r="2.55" fill="url(#so)"/>
<circle cx="546.8" cy="184.6" r="2.55" fill="url(#so)"/>
<circle cx="547.8" cy="184.6" r="2.55" fill="url(#so)"/>
<circle cx="548.7" cy="184.6" r="2.55" fill="url(#so)"/>
<circle cx="549.7" cy="184.6" r="2.55" fill="url(#so)"/>
<circle cx="550.7" cy="184.6" r="2.55" fill="url(#so)"/>
<circle cx="551.6" cy="184.6" r="2.8" fill="url(#so)"/>
<circle cx="552.5" cy="184.2" r="2.55" fill="url(#so)"/>
<circle cx="553.3" cy="183.8" r="2.55" fill="url(#so)"/>
<circle cx="554.1" cy="183.4" r="2.8" fill="url(#so)"/>
<circle cx="555.2" cy="182.5" r="2.55" fill="url(#so)"/>
<circle cx="556.3" cy="181.6" r="2.55" fill="url(#so)"/>
<circle cx="557.3" cy="180.6" r="2.8" fill="url(#so)"/>
<circle cx="558.3" cy="179.4" r="2.55" fill="url(#so)"/>
<circle cx="559.2" cy="178.1" r="2.55" fill="url(#so)"/>
<circle cx="560.2" cy="176.9" r="2.55" fill="url(#so)"/>
<circle cx="561.1" cy="175.6" r="2.55" fill="url(#so)"/>
<circle cx="562.1" cy="174.3" r="2.55" fill="url(#so)"/>
<circle cx="563.1" cy="173.1" r="2.8" fill="url(#so)"/>
<circle cx="564.0" cy="171.5" r="2.55" fill="url(#so)"/>
<circle cx="565.0" cy="169.9" r="2.55" fill="url(#so)"/>
<circle cx="565.9" cy="168.3" r="2.55" fill="url(#so)"/>
<circle cx="566.9" cy="166.7" r="2.55" fill="url(#so)"/>
<circle cx="567.8" cy="165.0" r="2.55" fill="url(#so)"/>
<circle cx="568.8" cy="163.4" r="2.8" fill="url(#so)"/>
<circle cx="569.7" cy="162.0" r="2.55" fill="url(#so)"/>
<circle cx="570.7" cy="160.6" r="2.55" fill="url(#so)"/>
<circle cx="571.7" cy="159.2" r="2.55" fill="url(#so)"/>
<circle cx="572.7" cy="157.8" r="2.55" fill="url(#so)"/>
<circle cx="573.7" cy="156.4" r="2.55" fill="url(#so)"/>
<circle cx="574.7" cy="155.0" r="2.8" fill="url(#so)"/>
<circle cx="575.6" cy="154.1" r="2.55" fill="url(#so)"/>
<circle cx="576.5" cy="153.1" r="2.55" fill="url(#so)"/>
<circle cx="577.4" cy="152.1" r="2.55" fill="url(#so)"/>
<circle cx="578.3" cy="151.2" r="2.55" fill="url(#so)"/>
<circle cx="579.2" cy="150.2" r="2.8" fill="url(#so)"/>
<circle cx="580.2" cy="149.5" r="2.55" fill="url(#so)"/>
<circle cx="581.1" cy="148.7" r="2.55" fill="url(#so)"/>
<circle cx="582.1" cy="148.0" r="2.8" fill="url(#so)"/>
<circle cx="582.9" cy="145.6" r="2.55" fill="url(#so)"/>
<circle cx="583.6" cy="143.3" r="2.8" fill="url(#so)"/>
<circle cx="584.6" cy="137.1" r="2.8" fill="url(#so)"/>
<circle cx="585.5" cy="127.8" r="2.8" fill="url(#so)"/>
<circle cx="586.3" cy="113.2" r="2.8" fill="url(#so)"/>
<circle cx="587.0" cy="102.6" r="2.8" fill="url(#so)"/>
<circle cx="587.8" cy="93.4" r="2.8" fill="url(#so)"/>
<circle cx="588.4" cy="75.4" r="2.8" fill="url(#so)"/>
<circle cx="588.9" cy="59.7" r="2.8" fill="url(#so)"/>
<circle cx="589.5" cy="49.8" r="2.8" fill="url(#so)"/>
<circle cx="590.3" cy="45.3" r="2.8" fill="url(#so)"/>
<circle cx="591.4" cy="43.6" r="2.8" fill="url(#so)"/>
<circle cx="592.3" cy="43.9" r="2.55" fill="url(#so)"/>
<circle cx="593.1" cy="44.2" r="2.8" fill="url(#so)"/>
<circle cx="594.2" cy="44.9" r="2.55" fill="url(#so)"/>
<circle cx="595.2" cy="45.5" r="2.55" fill="url(#so)"/>
<circle cx="596.2" cy="46.1" r="2.8" fill="url(#so)"/>
<circle cx="597.2" cy="47.1" r="2.55" fill="url(#so)"/>
<circle cx="598.2" cy="48.0" r="2.55" fill="url(#so)"/>
<circle cx="599.2" cy="48.9" r="2.55" fill="url(#so)"/>
<circle cx="600.1" cy="49.9" r="2.55" fill="url(#so)"/>
<circle cx="601.1" cy="50.8" r="2.8" fill="url(#so)"/>
<circle cx="602.1" cy="52.0" r="2.55" fill="url(#so)"/>
<circle cx="603.0" cy="53.2" r="2.55" fill="url(#so)"/>
<circle cx="604.0" cy="54.4" r="2.55" fill="url(#so)"/>
<circle cx="604.9" cy="55.6" r="2.8" fill="url(#so)"/>
<circle cx="605.7" cy="57.9" r="2.55" fill="url(#so)"/>
<circle cx="606.5" cy="60.2" r="2.8" fill="url(#so)"/>
<circle cx="607.2" cy="65.9" r="2.8" fill="url(#so)"/>
<circle cx="607.8" cy="75.4" r="2.8" fill="url(#so)"/>
<circle cx="608.6" cy="84.8" r="2.8" fill="url(#so)"/>
<circle cx="609.1" cy="95.3" r="2.8" fill="url(#so)"/>
<circle cx="609.9" cy="103.1" r="2.8" fill="url(#so)"/>
<circle cx="610.5" cy="117.7" r="2.8" fill="url(#so)"/>
<circle cx="611.2" cy="142.8" r="2.8" fill="url(#so)"/>
<circle cx="612.1" cy="158.8" r="2.8" fill="url(#so)"/>
<circle cx="612.9" cy="170.2" r="2.8" fill="url(#so)"/>
<circle cx="614.0" cy="177.9" r="2.8" fill="url(#so)"/>
<circle cx="614.8" cy="180.6" r="2.8" fill="url(#so)"/>
<circle cx="616.0" cy="183.2" r="2.8" fill="url(#so)"/>
<circle cx="616.9" cy="183.9" r="2.55" fill="url(#so)"/>
<circle cx="617.9" cy="184.6" r="2.8" fill="url(#so)"/>
<circle cx="618.8" cy="184.6" r="2.55" fill="url(#so)"/>
<circle cx="619.8" cy="184.6" r="2.55" fill="url(#so)"/>
<circle cx="620.7" cy="184.6" r="2.55" fill="url(#so)"/>
<circle cx="621.7" cy="184.6" r="2.55" fill="url(#so)"/>
<circle cx="622.6" cy="184.6" r="2.55" fill="url(#so)"/>
<circle cx="623.6" cy="184.6" r="2.55" fill="url(#so)"/>
<circle cx="624.6" cy="184.6" r="2.55" fill="url(#so)"/>
<circle cx="625.5" cy="184.6" r="2.55" fill="url(#so)"/>
<circle cx="626.5" cy="184.6" r="2.55" fill="url(#so)"/>
<circle cx="627.4" cy="184.6" r="2.55" fill="url(#so)"/>
<circle cx="628.4" cy="184.6" r="2.55" fill="url(#so)"/>
<circle cx="629.3" cy="184.6" r="2.55" fill="url(#so)"/>
<circle cx="630.3" cy="184.6" r="2.55" fill="url(#so)"/>
<circle cx="631.2" cy="184.6" r="2.55" fill="url(#so)"/>
<circle cx="632.2" cy="184.6" r="2.55" fill="url(#so)"/>
<circle cx="633.1" cy="184.6" r="2.55" fill="url(#so)"/>
<circle cx="634.1" cy="184.6" r="2.55" fill="url(#so)"/>
<circle cx="635.0" cy="184.6" r="2.55" fill="url(#so)"/>
<circle cx="636.0" cy="184.6" r="2.55" fill="url(#so)"/>
<circle cx="636.9" cy="184.6" r="2.55" fill="url(#so)"/>
<circle cx="637.9" cy="184.6" r="2.55" fill="url(#so)"/>
<circle cx="638.8" cy="184.6" r="2.55" fill="url(#so)"/>
<circle cx="639.8" cy="184.6" r="2.55" fill="url(#so)"/>
<circle cx="640.7" cy="184.6" r="2.55" fill="url(#so)"/>
<circle cx="641.7" cy="184.6" r="2.55" fill="url(#so)"/>
<circle cx="642.6" cy="184.6" r="2.55" fill="url(#so)"/>
<circle cx="643.6" cy="184.6" r="2.55" fill="url(#so)"/>
<circle cx="644.5" cy="184.6" r="2.55" fill="url(#so)"/>
<circle cx="645.5" cy="184.6" r="2.55" fill="url(#so)"/>
<circle cx="646.4" cy="184.6" r="2.55" fill="url(#so)"/>
<circle cx="647.4" cy="184.6" r="2.55" fill="url(#so)"/>
<circle cx="648.4" cy="184.6" r="2.55" fill="url(#so)"/>
<circle cx="649.3" cy="184.6" r="2.55" fill="url(#so)"/>
<circle cx="650.3" cy="184.6" r="2.55" fill="url(#so)"/>
<circle cx="651.2" cy="184.6" r="2.55" fill="url(#so)"/>
<circle cx="652.2" cy="184.6" r="2.55" fill="url(#so)"/>
<circle cx="653.1" cy="184.6" r="2.55" fill="url(#so)"/>
<circle cx="654.1" cy="184.6" r="2.55" fill="url(#so)"/>
<circle cx="655.0" cy="184.6" r="2.55" fill="url(#so)"/>
<circle cx="656.0" cy="184.6" r="2.55" fill="url(#so)"/>
<circle cx="656.9" cy="184.6" r="2.55" fill="url(#so)"/>
<circle cx="657.9" cy="184.6" r="2.55" fill="url(#so)"/>
<circle cx="658.8" cy="184.6" r="2.55" fill="url(#so)"/>
<circle cx="659.8" cy="184.6" r="2.55" fill="url(#so)"/>
<circle cx="660.7" cy="184.6" r="2.8" fill="url(#so)"/>
<line x1="551.3" y1="184.1" x2="553.8" y2="182.9" stroke="#fff" stroke-opacity="0.33" stroke-width="1.5" stroke-linecap="round"/>
<line x1="553.8" y1="182.9" x2="557.0" y2="180.1" stroke="#fff" stroke-opacity="0.33" stroke-width="1.5" stroke-linecap="round"/>
<line x1="557.0" y1="180.1" x2="562.8" y2="172.6" stroke="#fff" stroke-opacity="0.33" stroke-width="1.5" stroke-linecap="round"/>
<line x1="562.8" y1="172.6" x2="568.5" y2="162.9" stroke="#fff" stroke-opacity="0.33" stroke-width="1.5" stroke-linecap="round"/>
<line x1="568.5" y1="162.9" x2="574.4" y2="154.5" stroke="#fff" stroke-opacity="0.33" stroke-width="1.5" stroke-linecap="round"/>
<line x1="574.4" y1="154.5" x2="578.9" y2="149.7" stroke="#fff" stroke-opacity="0.33" stroke-width="1.5" stroke-linecap="round"/>
<line x1="578.9" y1="149.7" x2="581.8" y2="147.5" stroke="#fff" stroke-opacity="0.33" stroke-width="1.5" stroke-linecap="round"/>
<line x1="581.8" y1="147.5" x2="583.3" y2="142.8" stroke="#fff" stroke-opacity="0.33" stroke-width="1.5" stroke-linecap="round"/>
<line x1="591.1" y1="43.1" x2="592.8" y2="43.7" stroke="#fff" stroke-opacity="0.33" stroke-width="1.5" stroke-linecap="round"/>
<line x1="592.8" y1="43.7" x2="595.9" y2="45.6" stroke="#fff" stroke-opacity="0.33" stroke-width="1.5" stroke-linecap="round"/>
<line x1="595.9" y1="45.6" x2="600.8" y2="50.3" stroke="#fff" stroke-opacity="0.33" stroke-width="1.5" stroke-linecap="round"/>
<line x1="600.8" y1="50.3" x2="604.6" y2="55.1" stroke="#fff" stroke-opacity="0.33" stroke-width="1.5" stroke-linecap="round"/>
<line x1="604.6" y1="55.1" x2="606.2" y2="59.7" stroke="#fff" stroke-opacity="0.33" stroke-width="1.5" stroke-linecap="round"/>
<line x1="615.7" y1="182.7" x2="617.6" y2="184.1" stroke="#fff" stroke-opacity="0.33" stroke-width="1.5" stroke-linecap="round"/>
</g>
<g clip-path="url(#cc)">
<polyline fill="none" stroke="#ee7aa9" stroke-opacity="0.75" stroke-width="1.5" points="523.6,184.6 582.3,184.6 584.2,183.2 586.1,180.6 589.9,173.1 593.7,166.4 597.5,161.6 600.0,159.7 604.9,157.8 606.5,155.9 607.2,150.5 608.0,140.2 608.9,124.4 609.7,104.8 610.5,103.1 610.8,93.4 611.2,82.1 611.6,68.8 612.6,57.3 613.1,51.6 614.1,48.2 615.0,47.0 616.6,46.7 621.1,49.4 626.8,54.6 628.7,56.3 629.7,61.1 632.5,60.2 638.3,61.8 642.1,67.3 644.9,73.1 646.8,78.8 648.2,85.2 649.3,91.4 650.1,96.9 650.8,102.4 651.6,106.9 652.2,110.3 652.9,115.5 653.9,125.1 654.8,135.9 655.8,141.6 656.5,151.9 657.5,161.2 658.3,167.7 659.2,172.0 659.8,174.5 660.5,176.9 661.3,178.8 662.6,182.0 664.5,183.9 666.4,184.6 674.1,184.6"/>
<circle cx="523.6" cy="184.6" r="2.8" fill="url(#sp2)"/>
<circle cx="524.6" cy="184.6" r="2.55" fill="url(#sp2)"/>
<circle cx="525.5" cy="184.6" r="2.55" fill="url(#sp2)"/>
<circle cx="526.5" cy="184.6" r="2.55" fill="url(#sp2)"/>
<circle cx="527.4" cy="184.6" r="2.55" fill="url(#sp2)"/>
<circle cx="528.4" cy="184.6" r="2.55" fill="url(#sp2)"/>
<circle cx="529.3" cy="184.6" r="2.55" fill="url(#sp2)"/>
<circle cx="530.3" cy="184.6" r="2.55" fill="url(#sp2)"/>
<circle cx="531.2" cy="184.6" r="2.55" fill="url(#sp2)"/>
<circle cx="532.2" cy="184.6" r="2.55" fill="url(#sp2)"/>
<circle cx="533.1" cy="184.6" r="2.55" fill="url(#sp2)"/>
<circle cx="534.0" cy="184.6" r="2.55" fill="url(#sp2)"/>
<circle cx="535.0" cy="184.6" r="2.55" fill="url(#sp2)"/>
<circle cx="535.9" cy="184.6" r="2.55" fill="url(#sp2)"/>
<circle cx="536.9" cy="184.6" r="2.55" fill="url(#sp2)"/>
<circle cx="537.8" cy="184.6" r="2.55" fill="url(#sp2)"/>
<circle cx="538.8" cy="184.6" r="2.55" fill="url(#sp2)"/>
<circle cx="539.7" cy="184.6" r="2.55" fill="url(#sp2)"/>
<circle cx="540.7" cy="184.6" r="2.55" fill="url(#sp2)"/>
<circle cx="541.6" cy="184.6" r="2.55" fill="url(#sp2)"/>
<circle cx="542.6" cy="184.6" r="2.55" fill="url(#sp2)"/>
<circle cx="543.5" cy="184.6" r="2.55" fill="url(#sp2)"/>
<circle cx="544.4" cy="184.6" r="2.55" fill="url(#sp2)"/>
<circle cx="545.4" cy="184.6" r="2.55" fill="url(#sp2)"/>
<circle cx="546.3" cy="184.6" r="2.55" fill="url(#sp2)"/>
<circle cx="547.3" cy="184.6" r="2.55" fill="url(#sp2)"/>
<circle cx="548.2" cy="184.6" r="2.55" fill="url(#sp2)"/>
<circle cx="549.2" cy="184.6" r="2.55" fill="url(#sp2)"/>
<circle cx="550.1" cy="184.6" r="2.55" fill="url(#sp2)"/>
<circle cx="551.1" cy="184.6" r="2.55" fill="url(#sp2)"/>
<circle cx="552.0" cy="184.6" r="2.55" fill="url(#sp2)"/>
<circle cx="553.0" cy="184.6" r="2.55" fill="url(#sp2)"/>
<circle cx="553.9" cy="184.6" r="2.55" fill="url(#sp2)"/>
<circle cx="554.9" cy="184.6" r="2.55" fill="url(#sp2)"/>
<circle cx="555.8" cy="184.6" r="2.55" fill="url(#sp2)"/>
<circle cx="556.7" cy="184.6" r="2.55" fill="url(#sp2)"/>
<circle cx="557.7" cy="184.6" r="2.55" fill="url(#sp2)"/>
<circle cx="558.6" cy="184.6" r="2.55" fill="url(#sp2)"/>
<circle cx="559.6" cy="184.6" r="2.55" fill="url(#sp2)"/>
<circle cx="560.5" cy="184.6" r="2.55" fill="url(#sp2)"/>
<circle cx="561.5" cy="184.6" r="2.55" fill="url(#sp2)"/>
<circle cx="562.4" cy="184.6" r="2.55" fill="url(#sp2)"/>
<circle cx="563.4" cy="184.6" r="2.55" fill="url(#sp2)"/>
<circle cx="564.3" cy="184.6" r="2.55" fill="url(#sp2)"/>
<circle cx="565.3" cy="184.6" r="2.55" fill="url(#sp2)"/>
<circle cx="566.2" cy="184.6" r="2.55" fill="url(#sp2)"/>
<circle cx="567.1" cy="184.6" r="2.55" fill="url(#sp2)"/>
<circle cx="568.1" cy="184.6" r="2.55" fill="url(#sp2)"/>
<circle cx="569.0" cy="184.6" r="2.55" fill="url(#sp2)"/>
<circle cx="570.0" cy="184.6" r="2.55" fill="url(#sp2)"/>
<circle cx="570.9" cy="184.6" r="2.55" fill="url(#sp2)"/>
<circle cx="571.9" cy="184.6" r="2.55" fill="url(#sp2)"/>
<circle cx="572.8" cy="184.6" r="2.55" fill="url(#sp2)"/>
<circle cx="573.8" cy="184.6" r="2.55" fill="url(#sp2)"/>
<circle cx="574.7" cy="184.6" r="2.55" fill="url(#sp2)"/>
<circle cx="575.7" cy="184.6" r="2.55" fill="url(#sp2)"/>
<circle cx="576.6" cy="184.6" r="2.55" fill="url(#sp2)"/>
<circle cx="577.6" cy="184.6" r="2.55" fill="url(#sp2)"/>
<circle cx="578.5" cy="184.6" r="2.55" fill="url(#sp2)"/>
<circle cx="579.4" cy="184.6" r="2.55" fill="url(#sp2)"/>
<circle cx="580.4" cy="184.6" r="2.55" fill="url(#sp2)"/>
<circle cx="581.3" cy="184.6" r="2.55" fill="url(#sp2)"/>
<circle cx="582.3" cy="184.6" r="2.8" fill="url(#sp2)"/>
<circle cx="583.2" cy="183.9" r="2.55" fill="url(#sp2)"/>
<circle cx="584.2" cy="183.2" r="2.8" fill="url(#sp2)"/>
<circle cx="585.1" cy="181.9" r="2.55" fill="url(#sp2)"/>
<circle cx="586.1" cy="180.6" r="2.8" fill="url(#sp2)"/>
<circle cx="587.0" cy="178.8" r="2.55" fill="url(#sp2)"/>
<circle cx="588.0" cy="176.9" r="2.55" fill="url(#sp2)"/>
<circle cx="588.9" cy="175.0" r="2.55" fill="url(#sp2)"/>
<circle cx="589.9" cy="173.1" r="2.8" fill="url(#sp2)"/>
<circle cx="590.9" cy="171.4" r="2.55" fill="url(#sp2)"/>
<circle cx="591.8" cy="169.7" r="2.55" fill="url(#sp2)"/>
<circle cx="592.8" cy="168.0" r="2.55" fill="url(#sp2)"/>
<circle cx="593.7" cy="166.4" r="2.8" fill="url(#sp2)"/>
<circle cx="594.7" cy="165.2" r="2.55" fill="url(#sp2)"/>
<circle cx="595.6" cy="164.0" r="2.55" fill="url(#sp2)"/>
<circle cx="596.6" cy="162.8" r="2.55" fill="url(#sp2)"/>
<circle cx="597.5" cy="161.6" r="2.8" fill="url(#sp2)"/>
<circle cx="598.3" cy="160.9" r="2.55" fill="url(#sp2)"/>
<circle cx="599.2" cy="160.3" r="2.55" fill="url(#sp2)"/>
<circle cx="600.0" cy="159.7" r="2.8" fill="url(#sp2)"/>
<circle cx="601.0" cy="159.3" r="2.55" fill="url(#sp2)"/>
<circle cx="602.0" cy="158.9" r="2.55" fill="url(#sp2)"/>
<circle cx="603.0" cy="158.5" r="2.55" fill="url(#sp2)"/>
<circle cx="604.0" cy="158.1" r="2.55" fill="url(#sp2)"/>
<circle cx="604.9" cy="157.8" r="2.8" fill="url(#sp2)"/>
<circle cx="605.7" cy="156.8" r="2.55" fill="url(#sp2)"/>
<circle cx="606.5" cy="155.9" r="2.8" fill="url(#sp2)"/>
<circle cx="607.2" cy="150.5" r="2.8" fill="url(#sp2)"/>
<circle cx="608.0" cy="140.2" r="2.8" fill="url(#sp2)"/>
<circle cx="608.9" cy="124.4" r="2.8" fill="url(#sp2)"/>
<circle cx="609.7" cy="104.8" r="2.8" fill="url(#sp2)"/>
<circle cx="610.5" cy="103.1" r="2.8" fill="url(#sp2)"/>
<circle cx="610.8" cy="93.4" r="2.8" fill="url(#sp2)"/>
<circle cx="611.2" cy="82.1" r="2.8" fill="url(#sp2)"/>
<circle cx="611.6" cy="68.8" r="2.8" fill="url(#sp2)"/>
<circle cx="612.6" cy="57.3" r="2.8" fill="url(#sp2)"/>
<circle cx="613.1" cy="51.6" r="2.8" fill="url(#sp2)"/>
<circle cx="614.1" cy="48.2" r="2.8" fill="url(#sp2)"/>
<circle cx="615.0" cy="47.0" r="2.8" fill="url(#sp2)"/>
<circle cx="615.8" cy="46.8" r="2.55" fill="url(#sp2)"/>
<circle cx="616.6" cy="46.7" r="2.8" fill="url(#sp2)"/>
<circle cx="617.5" cy="47.2" r="2.55" fill="url(#sp2)"/>
<circle cx="618.4" cy="47.8" r="2.55" fill="url(#sp2)"/>
<circle cx="619.3" cy="48.3" r="2.55" fill="url(#sp2)"/>
<circle cx="620.2" cy="48.9" r="2.55" fill="url(#sp2)"/>
<circle cx="621.1" cy="49.4" r="2.8" fill="url(#sp2)"/>
<circle cx="622.1" cy="50.3" r="2.55" fill="url(#sp2)"/>
<circle cx="623.0" cy="51.1" r="2.55" fill="url(#sp2)"/>
<circle cx="624.0" cy="52.0" r="2.55" fill="url(#sp2)"/>
<circle cx="624.9" cy="52.8" r="2.55" fill="url(#sp2)"/>
<circle cx="625.9" cy="53.7" r="2.55" fill="url(#sp2)"/>
<circle cx="626.8" cy="54.6" r="2.8" fill="url(#sp2)"/>
<circle cx="627.8" cy="55.4" r="2.55" fill="url(#sp2)"/>
<circle cx="628.7" cy="56.3" r="2.8" fill="url(#sp2)"/>
<circle cx="629.7" cy="61.1" r="2.8" fill="url(#sp2)"/>
<circle cx="630.6" cy="60.8" r="2.55" fill="url(#sp2)"/>
<circle cx="631.6" cy="60.5" r="2.55" fill="url(#sp2)"/>
<circle cx="632.5" cy="60.2" r="2.8" fill="url(#sp2)"/>
<circle cx="633.5" cy="60.5" r="2.55" fill="url(#sp2)"/>
<circle cx="634.5" cy="60.8" r="2.55" fill="url(#sp2)"/>
<circle cx="635.4" cy="61.0" r="2.55" fill="url(#sp2)"/>
<circle cx="636.4" cy="61.3" r="2.55" fill="url(#sp2)"/>
<circle cx="637.3" cy="61.5" r="2.55" fill="url(#sp2)"/>
<circle cx="638.3" cy="61.8" r="2.8" fill="url(#sp2)"/>
<circle cx="639.2" cy="63.2" r="2.55" fill="url(#sp2)"/>
<circle cx="640.2" cy="64.5" r="2.55" fill="url(#sp2)"/>
<circle cx="641.1" cy="65.9" r="2.55" fill="url(#sp2)"/>
<circle cx="642.1" cy="67.3" r="2.8" fill="url(#sp2)"/>
<circle cx="643.0" cy="69.2" r="2.55" fill="url(#sp2)"/>
<circle cx="644.0" cy="71.2" r="2.55" fill="url(#sp2)"/>
<circle cx="644.9" cy="73.1" r="2.8" fill="url(#sp2)"/>
<circle cx="645.9" cy="76.0" r="2.55" fill="url(#sp2)"/>
<circle cx="646.8" cy="78.8" r="2.8" fill="url(#sp2)"/>
<circle cx="648.2" cy="85.2" r="2.8" fill="url(#sp2)"/>
<circle cx="649.3" cy="91.4" r="2.8" fill="url(#sp2)"/>
<circle cx="650.1" cy="96.9" r="2.8" fill="url(#sp2)"/>
<circle cx="650.8" cy="102.4" r="2.8" fill="url(#sp2)"/>
<circle cx="651.6" cy="106.9" r="2.8" fill="url(#sp2)"/>
<circle cx="652.2" cy="110.3" r="2.8" fill="url(#sp2)"/>
<circle cx="652.9" cy="115.5" r="2.8" fill="url(#sp2)"/>
<circle cx="653.9" cy="125.1" r="2.8" fill="url(#sp2)"/>
<circle cx="654.8" cy="135.9" r="2.8" fill="url(#sp2)"/>
<circle cx="655.8" cy="141.6" r="2.8" fill="url(#sp2)"/>
<circle cx="656.5" cy="151.9" r="2.8" fill="url(#sp2)"/>
<circle cx="657.5" cy="161.2" r="2.8" fill="url(#sp2)"/>
<circle cx="658.3" cy="167.7" r="2.8" fill="url(#sp2)"/>
<circle cx="659.2" cy="172.0" r="2.8" fill="url(#sp2)"/>
<circle cx="659.8" cy="174.5" r="2.8" fill="url(#sp2)"/>
<circle cx="660.5" cy="176.9" r="2.8" fill="url(#sp2)"/>
<circle cx="661.3" cy="178.8" r="2.8" fill="url(#sp2)"/>
<circle cx="662.6" cy="182.0" r="2.8" fill="url(#sp2)"/>
<circle cx="663.6" cy="183.0" r="2.55" fill="url(#sp2)"/>
<circle cx="664.5" cy="183.9" r="2.8" fill="url(#sp2)"/>
<circle cx="665.5" cy="184.3" r="2.55" fill="url(#sp2)"/>
<circle cx="666.4" cy="184.6" r="2.8" fill="url(#sp2)"/>
<circle cx="667.4" cy="184.6" r="2.55" fill="url(#sp2)"/>
<circle cx="668.3" cy="184.6" r="2.55" fill="url(#sp2)"/>
<circle cx="669.3" cy="184.6" r="2.55" fill="url(#sp2)"/>
<circle cx="670.2" cy="184.6" r="2.55" fill="url(#sp2)"/>
<circle cx="671.2" cy="184.6" r="2.55" fill="url(#sp2)"/>
<circle cx="672.2" cy="184.6" r="2.55" fill="url(#sp2)"/>
<circle cx="673.1" cy="184.6" r="2.55" fill="url(#sp2)"/>
<circle cx="674.1" cy="184.6" r="2.8" fill="url(#sp2)"/>
<line x1="582.0" y1="184.1" x2="583.9" y2="182.7" stroke="#fff" stroke-opacity="0.33" stroke-width="1.5" stroke-linecap="round"/>
<line x1="583.9" y1="182.7" x2="585.8" y2="180.1" stroke="#fff" stroke-opacity="0.33" stroke-width="1.5" stroke-linecap="round"/>
<line x1="585.8" y1="180.1" x2="589.6" y2="172.6" stroke="#fff" stroke-opacity="0.33" stroke-width="1.5" stroke-linecap="round"/>
<line x1="589.6" y1="172.6" x2="593.4" y2="165.9" stroke="#fff" stroke-opacity="0.33" stroke-width="1.5" stroke-linecap="round"/>
<line x1="593.4" y1="165.9" x2="597.2" y2="161.1" stroke="#fff" stroke-opacity="0.33" stroke-width="1.5" stroke-linecap="round"/>
<line x1="597.2" y1="161.1" x2="599.7" y2="159.2" stroke="#fff" stroke-opacity="0.33" stroke-width="1.5" stroke-linecap="round"/>
<line x1="599.7" y1="159.2" x2="604.6" y2="157.3" stroke="#fff" stroke-opacity="0.33" stroke-width="1.5" stroke-linecap="round"/>
<line x1="604.6" y1="157.3" x2="606.2" y2="155.4" stroke="#fff" stroke-opacity="0.33" stroke-width="1.5" stroke-linecap="round"/>
<line x1="614.7" y1="46.5" x2="616.3" y2="46.2" stroke="#fff" stroke-opacity="0.33" stroke-width="1.5" stroke-linecap="round"/>
<line x1="616.3" y1="46.2" x2="620.8" y2="48.9" stroke="#fff" stroke-opacity="0.33" stroke-width="1.5" stroke-linecap="round"/>
<line x1="620.8" y1="48.9" x2="626.5" y2="54.1" stroke="#fff" stroke-opacity="0.33" stroke-width="1.5" stroke-linecap="round"/>
<line x1="626.5" y1="54.1" x2="628.4" y2="55.8" stroke="#fff" stroke-opacity="0.33" stroke-width="1.5" stroke-linecap="round"/>
<line x1="629.4" y1="60.6" x2="632.2" y2="59.7" stroke="#fff" stroke-opacity="0.33" stroke-width="1.5" stroke-linecap="round"/>
<line x1="632.2" y1="59.7" x2="638.0" y2="61.3" stroke="#fff" stroke-opacity="0.33" stroke-width="1.5" stroke-linecap="round"/>
<line x1="638.0" y1="61.3" x2="641.8" y2="66.8" stroke="#fff" stroke-opacity="0.33" stroke-width="1.5" stroke-linecap="round"/>
<line x1="641.8" y1="66.8" x2="644.6" y2="72.6" stroke="#fff" stroke-opacity="0.33" stroke-width="1.5" stroke-linecap="round"/>
<line x1="644.6" y1="72.6" x2="646.5" y2="78.3" stroke="#fff" stroke-opacity="0.33" stroke-width="1.5" stroke-linecap="round"/>
<line x1="646.5" y1="78.3" x2="647.9" y2="84.7" stroke="#fff" stroke-opacity="0.33" stroke-width="1.5" stroke-linecap="round"/>
<line x1="661.0" y1="178.3" x2="662.3" y2="181.5" stroke="#fff" stroke-opacity="0.33" stroke-width="1.5" stroke-linecap="round"/>
<line x1="662.3" y1="181.5" x2="664.2" y2="183.4" stroke="#fff" stroke-opacity="0.33" stroke-width="1.5" stroke-linecap="round"/>
<line x1="664.2" y1="183.4" x2="666.1" y2="184.1" stroke="#fff" stroke-opacity="0.33" stroke-width="1.5" stroke-linecap="round"/>
</g>
<text x="598" y="217.7" font-size="14.9" text-anchor="middle" fill="#111" stroke="#111" stroke-width="0.22" font-weight="normal" >Wavelength (nm)</text>
<text x="475.3" y="98" font-size="14.5" text-anchor="middle" fill="#111" stroke="#111" stroke-width="0.22" font-weight="normal" transform="rotate(-90 475.3 98)" >EQE (%)</text>
<text x="511" y="26" font-size="10.5" text-anchor="start" fill="#3fb24a" stroke="#3fb24a" stroke-width="0.22" font-weight="bold" >12.51 mA/cm<tspan font-size="7.5" dy="-4.2">2</tspan></text>
<text x="573" y="37" font-size="10.5" text-anchor="start" fill="#ff7f0e" stroke="#ff7f0e" stroke-width="0.22" font-weight="bold" >8.31 mA/cm<tspan font-size="7.5" dy="-4.2">2</tspan></text>
<text x="627" y="48" font-size="10.5" text-anchor="start" fill="#e8709f" stroke="#e8709f" stroke-width="0.22" font-weight="bold" >10.7 mA/cm<tspan font-size="7.5" dy="-4.2">2</tspan></text>
<clipPath id="cd"><rect x="257.1" y="222.3" width="436.69999999999993" height="183.29999999999995"/></clipPath>
<g clip-path="url(#cd)">
<polyline fill="none" stroke="#ff7f0e" stroke-width="1" points="270.0,406.4 274.4,406.4 278.7,359.6 283.0,360.4 287.3,360.4 291.6,360.4 296.0,360.4 300.3,360.4 304.6,360.4 308.9,360.4 313.2,360.5 317.6,360.5 321.9,360.5 326.2,360.5 330.5,360.5 334.8,360.5 339.2,360.5 343.5,360.5 347.8,360.5 352.1,360.5 356.4,360.6 360.8,360.6 365.1,360.6 369.4,360.6 373.7,360.6 378.0,360.6 382.4,360.6 386.7,360.6 391.0,360.6 395.3,360.6 399.6,360.7 404.0,360.7 408.3,360.7 412.6,360.7 416.9,360.7 421.2,360.7 425.6,360.7 429.9,360.7 434.2,360.7 438.5,360.7 442.8,360.8 447.2,360.8 451.5,360.8 455.8,360.8 460.1,360.8 464.4,360.8 468.8,360.8 473.1,360.8 477.4,360.8 481.7,360.8 486.0,360.9 490.4,360.9 494.7,360.9 499.0,360.9 503.3,360.9 507.6,360.9 512.0,360.9 516.3,360.9 520.6,360.9 524.9,360.9 529.2,361.0 533.6,361.0 537.9,361.0 542.2,361.0 546.5,361.0 550.8,361.0 555.2,361.0 559.5,361.0 563.8,361.0 568.1,361.0 572.4,361.1 576.8,361.1 581.1,361.1 585.4,361.1 589.7,361.1 594.0,361.1 598.4,361.1 602.7,361.1 607.0,361.1 611.3,361.1 615.6,361.2 620.0,361.2 624.3,361.2 628.6,361.2 632.9,361.2 637.2,361.2 641.6,361.2 645.9,361.2 650.2,361.2 654.5,361.2 658.8,361.3 663.2,361.3 667.5,361.3 671.8,361.3 676.1,361.3 680.4,361.3 684.8,361.3 689.1,361.3 693.4,361.3"/>
<circle cx="270.0" cy="406.4" r="3.7" fill="url(#ro)"/>
<circle cx="274.4" cy="406.4" r="3.7" fill="url(#ro)"/>
<circle cx="278.7" cy="359.6" r="3.7" fill="url(#ro)"/>
<circle cx="283.0" cy="360.4" r="3.7" fill="url(#ro)"/>
<circle cx="287.3" cy="360.4" r="3.7" fill="url(#ro)"/>
<circle cx="291.6" cy="360.4" r="3.7" fill="url(#ro)"/>
<circle cx="296.0" cy="360.4" r="3.7" fill="url(#ro)"/>
<circle cx="300.3" cy="360.4" r="3.7" fill="url(#ro)"/>
<circle cx="304.6" cy="360.4" r="3.7" fill="url(#ro)"/>
<circle cx="308.9" cy="360.4" r="3.7" fill="url(#ro)"/>
<circle cx="313.2" cy="360.5" r="3.7" fill="url(#ro)"/>
<circle cx="317.6" cy="360.5" r="3.7" fill="url(#ro)"/>
<circle cx="321.9" cy="360.5" r="3.7" fill="url(#ro)"/>
<circle cx="326.2" cy="360.5" r="3.7" fill="url(#ro)"/>
<circle cx="330.5" cy="360.5" r="3.7" fill="url(#ro)"/>
<circle cx="334.8" cy="360.5" r="3.7" fill="url(#ro)"/>
<circle cx="339.2" cy="360.5" r="3.7" fill="url(#ro)"/>
<circle cx="343.5" cy="360.5" r="3.7" fill="url(#ro)"/>
<circle cx="347.8" cy="360.5" r="3.7" fill="url(#ro)"/>
<circle cx="352.1" cy="360.5" r="3.7" fill="url(#ro)"/>
<circle cx="356.4" cy="360.6" r="3.7" fill="url(#ro)"/>
<circle cx="360.8" cy="360.6" r="3.7" fill="url(#ro)"/>
<circle cx="365.1" cy="360.6" r="3.7" fill="url(#ro)"/>
<circle cx="369.4" cy="360.6" r="3.7" fill="url(#ro)"/>
<circle cx="373.7" cy="360.6" r="3.7" fill="url(#ro)"/>
<circle cx="378.0" cy="360.6" r="3.7" fill="url(#ro)"/>
<circle cx="382.4" cy="360.6" r="3.7" fill="url(#ro)"/>
<circle cx="386.7" cy="360.6" r="3.7" fill="url(#ro)"/>
<circle cx="391.0" cy="360.6" r="3.7" fill="url(#ro)"/>
<circle cx="395.3" cy="360.6" r="3.7" fill="url(#ro)"/>
<circle cx="399.6" cy="360.7" r="3.7" fill="url(#ro)"/>
<circle cx="404.0" cy="360.7" r="3.7" fill="url(#ro)"/>
<circle cx="408.3" cy="360.7" r="3.7" fill="url(#ro)"/>
<circle cx="412.6" cy="360.7" r="3.7" fill="url(#ro)"/>
<circle cx="416.9" cy="360.7" r="3.7" fill="url(#ro)"/>
<circle cx="421.2" cy="360.7" r="3.7" fill="url(#ro)"/>
<circle cx="425.6" cy="360.7" r="3.7" fill="url(#ro)"/>
<circle cx="429.9" cy="360.7" r="3.7" fill="url(#ro)"/>
<circle cx="434.2" cy="360.7" r="3.7" fill="url(#ro)"/>
<circle cx="438.5" cy="360.7" r="3.7" fill="url(#ro)"/>
<circle cx="442.8" cy="360.8" r="3.7" fill="url(#ro)"/>
<circle cx="447.2" cy="360.8" r="3.7" fill="url(#ro)"/>
<circle cx="451.5" cy="360.8" r="3.7" fill="url(#ro)"/>
<circle cx="455.8" cy="360.8" r="3.7" fill="url(#ro)"/>
<circle cx="460.1" cy="360.8" r="3.7" fill="url(#ro)"/>
<circle cx="464.4" cy="360.8" r="3.7" fill="url(#ro)"/>
<circle cx="468.8" cy="360.8" r="3.7" fill="url(#ro)"/>
<circle cx="473.1" cy="360.8" r="3.7" fill="url(#ro)"/>
<circle cx="477.4" cy="360.8" r="3.7" fill="url(#ro)"/>
<circle cx="481.7" cy="360.8" r="3.7" fill="url(#ro)"/>
<circle cx="486.0" cy="360.9" r="3.7" fill="url(#ro)"/>
<circle cx="490.4" cy="360.9" r="3.7" fill="url(#ro)"/>
<circle cx="494.7" cy="360.9" r="3.7" fill="url(#ro)"/>
<circle cx="499.0" cy="360.9" r="3.7" fill="url(#ro)"/>
<circle cx="503.3" cy="360.9" r="3.7" fill="url(#ro)"/>
<circle cx="507.6" cy="360.9" r="3.7" fill="url(#ro)"/>
<circle cx="512.0" cy="360.9" r="3.7" fill="url(#ro)"/>
<circle cx="516.3" cy="360.9" r="3.7" fill="url(#ro)"/>
<circle cx="520.6" cy="360.9" r="3.7" fill="url(#ro)"/>
<circle cx="524.9" cy="360.9" r="3.7" fill="url(#ro)"/>
<circle cx="529.2" cy="361.0" r="3.7" fill="url(#ro)"/>
<circle cx="533.6" cy="361.0" r="3.7" fill="url(#ro)"/>
<circle cx="537.9" cy="361.0" r="3.7" fill="url(#ro)"/>
<circle cx="542.2" cy="361.0" r="3.7" fill="url(#ro)"/>
<circle cx="546.5" cy="361.0" r="3.7" fill="url(#ro)"/>
<circle cx="550.8" cy="361.0" r="3.7" fill="url(#ro)"/>
<circle cx="555.2" cy="361.0" r="3.7" fill="url(#ro)"/>
<circle cx="559.5" cy="361.0" r="3.7" fill="url(#ro)"/>
<circle cx="563.8" cy="361.0" r="3.7" fill="url(#ro)"/>
<circle cx="568.1" cy="361.0" r="3.7" fill="url(#ro)"/>
<circle cx="572.4" cy="361.1" r="3.7" fill="url(#ro)"/>
<circle cx="576.8" cy="361.1" r="3.7" fill="url(#ro)"/>
<circle cx="581.1" cy="361.1" r="3.7" fill="url(#ro)"/>
<circle cx="585.4" cy="361.1" r="3.7" fill="url(#ro)"/>
<circle cx="589.7" cy="361.1" r="3.7" fill="url(#ro)"/>
<circle cx="594.0" cy="361.1" r="3.7" fill="url(#ro)"/>
<circle cx="598.4" cy="361.1" r="3.7" fill="url(#ro)"/>
<circle cx="602.7" cy="361.1" r="3.7" fill="url(#ro)"/>
<circle cx="607.0" cy="361.1" r="3.7" fill="url(#ro)"/>
<circle cx="611.3" cy="361.1" r="3.7" fill="url(#ro)"/>
<circle cx="615.6" cy="361.2" r="3.7" fill="url(#ro)"/>
<circle cx="620.0" cy="361.2" r="3.7" fill="url(#ro)"/>
<circle cx="624.3" cy="361.2" r="3.7" fill="url(#ro)"/>
<circle cx="628.6" cy="361.2" r="3.7" fill="url(#ro)"/>
<circle cx="632.9" cy="361.2" r="3.7" fill="url(#ro)"/>
<circle cx="637.2" cy="361.2" r="3.7" fill="url(#ro)"/>
<circle cx="641.6" cy="361.2" r="3.7" fill="url(#ro)"/>
<circle cx="645.9" cy="361.2" r="3.7" fill="url(#ro)"/>
<circle cx="650.2" cy="361.2" r="3.7" fill="url(#ro)"/>
<circle cx="654.5" cy="361.2" r="3.7" fill="url(#ro)"/>
<circle cx="658.8" cy="361.3" r="3.7" fill="url(#ro)"/>
<circle cx="663.2" cy="361.3" r="3.7" fill="url(#ro)"/>
<circle cx="667.5" cy="361.3" r="3.7" fill="url(#ro)"/>
<circle cx="671.8" cy="361.3" r="3.7" fill="url(#ro)"/>
<circle cx="676.1" cy="361.3" r="3.7" fill="url(#ro)"/>
<circle cx="680.4" cy="361.3" r="3.7" fill="url(#ro)"/>
<circle cx="684.8" cy="361.3" r="3.7" fill="url(#ro)"/>
<circle cx="689.1" cy="361.3" r="3.7" fill="url(#ro)"/>
<circle cx="693.4" cy="361.3" r="3.7" fill="url(#ro)"/>
</g>
<g clip-path="url(#cd)">
<polyline fill="none" stroke="#3fb24a" stroke-width="1" points="261.4,406.4 265.7,406.4 270.0,362.9 274.4,362.9 278.7,362.9 283.0,362.9 287.3,362.9 291.6,362.9 296.0,362.9 300.3,362.9 304.6,362.9 308.9,362.9 313.2,362.9 317.6,362.9 321.9,362.9 326.2,362.9 330.5,362.9 334.8,362.9 339.2,363.0 343.5,363.0 347.8,363.0 352.1,363.0 356.4,363.0 360.8,363.0 365.1,363.0 369.4,363.0 373.7,363.0 378.0,363.0 382.4,363.0 386.7,363.0 391.0,363.0 395.3,363.0 399.6,363.0 404.0,363.0 408.3,363.0 412.6,363.0 416.9,363.0 421.2,363.0 425.6,363.0 429.9,363.1 434.2,363.1 438.5,363.1 442.8,363.1 447.2,363.1 451.5,363.1 455.8,363.1 460.1,363.1 464.4,363.1 468.8,363.1 473.1,363.1 477.4,363.1 481.7,363.1 486.0,363.1 490.4,363.1 494.7,363.1 499.0,363.1 503.3,363.1 507.6,363.1 512.0,363.1 516.3,363.1 520.6,363.2 524.9,363.2 529.2,363.2 533.6,363.2 537.9,363.2 542.2,363.2 546.5,363.2 550.8,363.2 555.2,363.2 559.5,363.2 563.8,363.2 568.1,363.2 572.4,363.2 576.8,363.2 581.1,363.2 585.4,363.2 589.7,363.2 594.0,363.2 598.4,363.2 602.7,363.2 607.0,363.3 611.3,363.3 615.6,363.3 620.0,363.3 624.3,363.3 628.6,363.3 632.9,363.3 637.2,363.3 641.6,363.3 645.9,363.3 650.2,363.3 654.5,363.3 658.8,363.3 663.2,363.3 667.5,363.3 671.8,363.3 676.1,363.3 680.4,363.3 684.8,363.3 689.1,363.3 693.4,363.3"/>
<circle cx="261.4" cy="406.4" r="4.2" fill="url(#rg)"/>
<circle cx="265.7" cy="406.4" r="4.2" fill="url(#rg)"/>
<circle cx="270.0" cy="362.9" r="4.2" fill="url(#rg)"/>
<circle cx="274.4" cy="362.9" r="4.2" fill="url(#rg)"/>
<circle cx="278.7" cy="362.9" r="4.2" fill="url(#rg)"/>
<circle cx="283.0" cy="362.9" r="4.2" fill="url(#rg)"/>
<circle cx="287.3" cy="362.9" r="4.2" fill="url(#rg)"/>
<circle cx="291.6" cy="362.9" r="4.2" fill="url(#rg)"/>
<circle cx="296.0" cy="362.9" r="4.2" fill="url(#rg)"/>
<circle cx="300.3" cy="362.9" r="4.2" fill="url(#rg)"/>
<circle cx="304.6" cy="362.9" r="4.2" fill="url(#rg)"/>
<circle cx="308.9" cy="362.9" r="4.2" fill="url(#rg)"/>
<circle cx="313.2" cy="362.9" r="4.2" fill="url(#rg)"/>
<circle cx="317.6" cy="362.9" r="4.2" fill="url(#rg)"/>
<circle cx="321.9" cy="362.9" r="4.2" fill="url(#rg)"/>
<circle cx="326.2" cy="362.9" r="4.2" fill="url(#rg)"/>
<circle cx="330.5" cy="362.9" r="4.2" fill="url(#rg)"/>
<circle cx="334.8" cy="362.9" r="4.2" fill="url(#rg)"/>
<circle cx="339.2" cy="363.0" r="4.2" fill="url(#rg)"/>
<circle cx="343.5" cy="363.0" r="4.2" fill="url(#rg)"/>
<circle cx="347.8" cy="363.0" r="4.2" fill="url(#rg)"/>
<circle cx="352.1" cy="363.0" r="4.2" fill="url(#rg)"/>
<circle cx="356.4" cy="363.0" r="4.2" fill="url(#rg)"/>
<circle cx="360.8" cy="363.0" r="4.2" fill="url(#rg)"/>
<circle cx="365.1" cy="363.0" r="4.2" fill="url(#rg)"/>
<circle cx="369.4" cy="363.0" r="4.2" fill="url(#rg)"/>
<circle cx="373.7" cy="363.0" r="4.2" fill="url(#rg)"/>
<circle cx="378.0" cy="363.0" r="4.2" fill="url(#rg)"/>
<circle cx="382.4" cy="363.0" r="4.2" fill="url(#rg)"/>
<circle cx="386.7" cy="363.0" r="4.2" fill="url(#rg)"/>
<circle cx="391.0" cy="363.0" r="4.2" fill="url(#rg)"/>
<circle cx="395.3" cy="363.0" r="4.2" fill="url(#rg)"/>
<circle cx="399.6" cy="363.0" r="4.2" fill="url(#rg)"/>
<circle cx="404.0" cy="363.0" r="4.2" fill="url(#rg)"/>
<circle cx="408.3" cy="363.0" r="4.2" fill="url(#rg)"/>
<circle cx="412.6" cy="363.0" r="4.2" fill="url(#rg)"/>
<circle cx="416.9" cy="363.0" r="4.2" fill="url(#rg)"/>
<circle cx="421.2" cy="363.0" r="4.2" fill="url(#rg)"/>
<circle cx="425.6" cy="363.0" r="4.2" fill="url(#rg)"/>
<circle cx="429.9" cy="363.1" r="4.2" fill="url(#rg)"/>
<circle cx="434.2" cy="363.1" r="4.2" fill="url(#rg)"/>
<circle cx="438.5" cy="363.1" r="4.2" fill="url(#rg)"/>
<circle cx="442.8" cy="363.1" r="4.2" fill="url(#rg)"/>
<circle cx="447.2" cy="363.1" r="4.2" fill="url(#rg)"/>
<circle cx="451.5" cy="363.1" r="4.2" fill="url(#rg)"/>
<circle cx="455.8" cy="363.1" r="4.2" fill="url(#rg)"/>
<circle cx="460.1" cy="363.1" r="4.2" fill="url(#rg)"/>
<circle cx="464.4" cy="363.1" r="4.2" fill="url(#rg)"/>
<circle cx="468.8" cy="363.1" r="4.2" fill="url(#rg)"/>
<circle cx="473.1" cy="363.1" r="4.2" fill="url(#rg)"/>
<circle cx="477.4" cy="363.1" r="4.2" fill="url(#rg)"/>
<circle cx="481.7" cy="363.1" r="4.2" fill="url(#rg)"/>
<circle cx="486.0" cy="363.1" r="4.2" fill="url(#rg)"/>
<circle cx="490.4" cy="363.1" r="4.2" fill="url(#rg)"/>
<circle cx="494.7" cy="363.1" r="4.2" fill="url(#rg)"/>
<circle cx="499.0" cy="363.1" r="4.2" fill="url(#rg)"/>
<circle cx="503.3" cy="363.1" r="4.2" fill="url(#rg)"/>
<circle cx="507.6" cy="363.1" r="4.2" fill="url(#rg)"/>
<circle cx="512.0" cy="363.1" r="4.2" fill="url(#rg)"/>
<circle cx="516.3" cy="363.1" r="4.2" fill="url(#rg)"/>
<circle cx="520.6" cy="363.2" r="4.2" fill="url(#rg)"/>
<circle cx="524.9" cy="363.2" r="4.2" fill="url(#rg)"/>
<circle cx="529.2" cy="363.2" r="4.2" fill="url(#rg)"/>
<circle cx="533.6" cy="363.2" r="4.2" fill="url(#rg)"/>
<circle cx="537.9" cy="363.2" r="4.2" fill="url(#rg)"/>
<circle cx="542.2" cy="363.2" r="4.2" fill="url(#rg)"/>
<circle cx="546.5" cy="363.2" r="4.2" fill="url(#rg)"/>
<circle cx="550.8" cy="363.2" r="4.2" fill="url(#rg)"/>
<circle cx="555.2" cy="363.2" r="4.2" fill="url(#rg)"/>
<circle cx="559.5" cy="363.2" r="4.2" fill="url(#rg)"/>
<circle cx="563.8" cy="363.2" r="4.2" fill="url(#rg)"/>
<circle cx="568.1" cy="363.2" r="4.2" fill="url(#rg)"/>
<circle cx="572.4" cy="363.2" r="4.2" fill="url(#rg)"/>
<circle cx="576.8" cy="363.2" r="4.2" fill="url(#rg)"/>
<circle cx="581.1" cy="363.2" r="4.2" fill="url(#rg)"/>
<circle cx="585.4" cy="363.2" r="4.2" fill="url(#rg)"/>
<circle cx="589.7" cy="363.2" r="4.2" fill="url(#rg)"/>
<circle cx="594.0" cy="363.2" r="4.2" fill="url(#rg)"/>
<circle cx="598.4" cy="363.2" r="4.2" fill="url(#rg)"/>
<circle cx="602.7" cy="363.2" r="4.2" fill="url(#rg)"/>
<circle cx="607.0" cy="363.3" r="4.2" fill="url(#rg)"/>
<circle cx="611.3" cy="363.3" r="4.2" fill="url(#rg)"/>
<circle cx="615.6" cy="363.3" r="4.2" fill="url(#rg)"/>
<circle cx="620.0" cy="363.3" r="4.2" fill="url(#rg)"/>
<circle cx="624.3" cy="363.3" r="4.2" fill="url(#rg)"/>
<circle cx="628.6" cy="363.3" r="4.2" fill="url(#rg)"/>
<circle cx="632.9" cy="363.3" r="4.2" fill="url(#rg)"/>
<circle cx="637.2" cy="363.3" r="4.2" fill="url(#rg)"/>
<circle cx="641.6" cy="363.3" r="4.2" fill="url(#rg)"/>
<circle cx="645.9" cy="363.3" r="4.2" fill="url(#rg)"/>
<circle cx="650.2" cy="363.3" r="4.2" fill="url(#rg)"/>
<circle cx="654.5" cy="363.3" r="4.2" fill="url(#rg)"/>
<circle cx="658.8" cy="363.3" r="4.2" fill="url(#rg)"/>
<circle cx="663.2" cy="363.3" r="4.2" fill="url(#rg)"/>
<circle cx="667.5" cy="363.3" r="4.2" fill="url(#rg)"/>
<circle cx="671.8" cy="363.3" r="4.2" fill="url(#rg)"/>
<circle cx="676.1" cy="363.3" r="4.2" fill="url(#rg)"/>
<circle cx="680.4" cy="363.3" r="4.2" fill="url(#rg)"/>
<circle cx="684.8" cy="363.3" r="4.2" fill="url(#rg)"/>
<circle cx="689.1" cy="363.3" r="4.2" fill="url(#rg)"/>
<circle cx="693.4" cy="363.3" r="4.2" fill="url(#rg)"/>
</g>
<g clip-path="url(#cd)">
<polyline fill="none" stroke="#ff676e" stroke-width="1" points="265.7,406.4 270.0,316.9 274.4,318.9 278.7,319.0 283.0,319.0 287.3,319.0 291.6,319.1 296.0,319.1 300.3,319.1 304.6,319.2 308.9,319.2 313.2,319.2 317.6,319.3 321.9,319.3 326.2,319.3 330.5,319.4 334.8,319.4 339.2,319.4 343.5,319.5 347.8,319.5 352.1,319.5 356.4,319.6 360.8,319.6 365.1,319.6 369.4,319.7 373.7,319.7 378.0,319.7 382.4,319.8 386.7,319.8 391.0,319.8 395.3,319.9 399.6,319.9 404.0,319.9 408.3,320.0 412.6,320.0 416.9,320.0 421.2,320.1 425.6,320.1 429.9,320.1 434.2,320.2 438.5,320.2 442.8,320.2 447.2,320.3 451.5,320.3 455.8,320.3 460.1,320.4 464.4,320.4 468.8,320.4 473.1,320.5 477.4,320.5 481.7,320.5 486.0,320.6 490.4,320.6 494.7,320.6 499.0,320.7 503.3,320.7 507.6,320.7 512.0,320.8 516.3,320.8 520.6,320.8 524.9,320.9 529.2,320.9 533.6,320.9 537.9,321.0 542.2,321.0 546.5,321.1 550.8,321.1 555.2,321.1 559.5,321.2 563.8,321.2 568.1,321.2 572.4,321.3 576.8,321.3 581.1,321.3 585.4,321.4 589.7,321.4 594.0,321.4 598.4,321.5 602.7,321.5 607.0,321.5 611.3,321.6 615.6,321.6 620.0,321.6 624.3,321.7 628.6,321.7 632.9,321.7 637.2,321.8 641.6,321.8 645.9,321.8 650.2,321.9 654.5,321.9 658.8,321.9 663.2,322.0 667.5,322.0 671.8,322.0 676.1,322.1 680.4,322.1 684.8,322.1 689.1,322.2 693.4,322.2"/>
<circle cx="270.0" cy="316.9" r="3.8" fill="url(#rr)"/>
<circle cx="274.4" cy="318.9" r="3.8" fill="url(#rr)"/>
<circle cx="278.7" cy="319.0" r="3.8" fill="url(#rr)"/>
<circle cx="283.0" cy="319.0" r="3.8" fill="url(#rr)"/>
<circle cx="287.3" cy="319.0" r="3.8" fill="url(#rr)"/>
<circle cx="291.6" cy="319.1" r="3.8" fill="url(#rr)"/>
<circle cx="296.0" cy="319.1" r="3.8" fill="url(#rr)"/>
<circle cx="300.3" cy="319.1" r="3.8" fill="url(#rr)"/>
<circle cx="304.6" cy="319.2" r="3.8" fill="url(#rr)"/>
<circle cx="308.9" cy="319.2" r="3.8" fill="url(#rr)"/>
<circle cx="313.2" cy="319.2" r="3.8" fill="url(#rr)"/>
<circle cx="317.6" cy="319.3" r="3.8" fill="url(#rr)"/>
<circle cx="321.9" cy="319.3" r="3.8" fill="url(#rr)"/>
<circle cx="326.2" cy="319.3" r="3.8" fill="url(#rr)"/>
<circle cx="330.5" cy="319.4" r="3.8" fill="url(#rr)"/>
<circle cx="334.8" cy="319.4" r="3.8" fill="url(#rr)"/>
<circle cx="339.2" cy="319.4" r="3.8" fill="url(#rr)"/>
<circle cx="343.5" cy="319.5" r="3.8" fill="url(#rr)"/>
<circle cx="347.8" cy="319.5" r="3.8" fill="url(#rr)"/>
<circle cx="352.1" cy="319.5" r="3.8" fill="url(#rr)"/>
<circle cx="356.4" cy="319.6" r="3.8" fill="url(#rr)"/>
<circle cx="360.8" cy="319.6" r="3.8" fill="url(#rr)"/>
<circle cx="365.1" cy="319.6" r="3.8" fill="url(#rr)"/>
<circle cx="369.4" cy="319.7" r="3.8" fill="url(#rr)"/>
<circle cx="373.7" cy="319.7" r="3.8" fill="url(#rr)"/>
<circle cx="378.0" cy="319.7" r="3.8" fill="url(#rr)"/>
<circle cx="382.4" cy="319.8" r="3.8" fill="url(#rr)"/>
<circle cx="386.7" cy="319.8" r="3.8" fill="url(#rr)"/>
<circle cx="391.0" cy="319.8" r="3.8" fill="url(#rr)"/>
<circle cx="395.3" cy="319.9" r="3.8" fill="url(#rr)"/>
<circle cx="399.6" cy="319.9" r="3.8" fill="url(#rr)"/>
<circle cx="404.0" cy="319.9" r="3.8" fill="url(#rr)"/>
<circle cx="408.3" cy="320.0" r="3.8" fill="url(#rr)"/>
<circle cx="412.6" cy="320.0" r="3.8" fill="url(#rr)"/>
<circle cx="416.9" cy="320.0" r="3.8" fill="url(#rr)"/>
<circle cx="421.2" cy="320.1" r="3.8" fill="url(#rr)"/>
<circle cx="425.6" cy="320.1" r="3.8" fill="url(#rr)"/>
<circle cx="429.9" cy="320.1" r="3.8" fill="url(#rr)"/>
<circle cx="434.2" cy="320.2" r="3.8" fill="url(#rr)"/>
<circle cx="438.5" cy="320.2" r="3.8" fill="url(#rr)"/>
<circle cx="442.8" cy="320.2" r="3.8" fill="url(#rr)"/>
<circle cx="447.2" cy="320.3" r="3.8" fill="url(#rr)"/>
<circle cx="451.5" cy="320.3" r="3.8" fill="url(#rr)"/>
<circle cx="455.8" cy="320.3" r="3.8" fill="url(#rr)"/>
<circle cx="460.1" cy="320.4" r="3.8" fill="url(#rr)"/>
<circle cx="464.4" cy="320.4" r="3.8" fill="url(#rr)"/>
<circle cx="468.8" cy="320.4" r="3.8" fill="url(#rr)"/>
<circle cx="473.1" cy="320.5" r="3.8" fill="url(#rr)"/>
<circle cx="477.4" cy="320.5" r="3.8" fill="url(#rr)"/>
<circle cx="481.7" cy="320.5" r="3.8" fill="url(#rr)"/>
<circle cx="486.0" cy="320.6" r="3.8" fill="url(#rr)"/>
<circle cx="490.4" cy="320.6" r="3.8" fill="url(#rr)"/>
<circle cx="494.7" cy="320.6" r="3.8" fill="url(#rr)"/>
<circle cx="499.0" cy="320.7" r="3.8" fill="url(#rr)"/>
<circle cx="503.3" cy="320.7" r="3.8" fill="url(#rr)"/>
<circle cx="507.6" cy="320.7" r="3.8" fill="url(#rr)"/>
<circle cx="512.0" cy="320.8" r="3.8" fill="url(#rr)"/>
<circle cx="516.3" cy="320.8" r="3.8" fill="url(#rr)"/>
<circle cx="520.6" cy="320.8" r="3.8" fill="url(#rr)"/>
<circle cx="524.9" cy="320.9" r="3.8" fill="url(#rr)"/>
<circle cx="529.2" cy="320.9" r="3.8" fill="url(#rr)"/>
<circle cx="533.6" cy="320.9" r="3.8" fill="url(#rr)"/>
<circle cx="537.9" cy="321.0" r="3.8" fill="url(#rr)"/>
<circle cx="542.2" cy="321.0" r="3.8" fill="url(#rr)"/>
<circle cx="546.5" cy="321.1" r="3.8" fill="url(#rr)"/>
<circle cx="550.8" cy="321.1" r="3.8" fill="url(#rr)"/>
<circle cx="555.2" cy="321.1" r="3.8" fill="url(#rr)"/>
<circle cx="559.5" cy="321.2" r="3.8" fill="url(#rr)"/>
<circle cx="563.8" cy="321.2" r="3.8" fill="url(#rr)"/>
<circle cx="568.1" cy="321.2" r="3.8" fill="url(#rr)"/>
<circle cx="572.4" cy="321.3" r="3.8" fill="url(#rr)"/>
<circle cx="576.8" cy="321.3" r="3.8" fill="url(#rr)"/>
<circle cx="581.1" cy="321.3" r="3.8" fill="url(#rr)"/>
<circle cx="585.4" cy="321.4" r="3.8" fill="url(#rr)"/>
<circle cx="589.7" cy="321.4" r="3.8" fill="url(#rr)"/>
<circle cx="594.0" cy="321.4" r="3.8" fill="url(#rr)"/>
<circle cx="598.4" cy="321.5" r="3.8" fill="url(#rr)"/>
<circle cx="602.7" cy="321.5" r="3.8" fill="url(#rr)"/>
<circle cx="607.0" cy="321.5" r="3.8" fill="url(#rr)"/>
<circle cx="611.3" cy="321.6" r="3.8" fill="url(#rr)"/>
<circle cx="615.6" cy="321.6" r="3.8" fill="url(#rr)"/>
<circle cx="620.0" cy="321.6" r="3.8" fill="url(#rr)"/>
<circle cx="624.3" cy="321.7" r="3.8" fill="url(#rr)"/>
<circle cx="628.6" cy="321.7" r="3.8" fill="url(#rr)"/>
<circle cx="632.9" cy="321.7" r="3.8" fill="url(#rr)"/>
<circle cx="637.2" cy="321.8" r="3.8" fill="url(#rr)"/>
<circle cx="641.6" cy="321.8" r="3.8" fill="url(#rr)"/>
<circle cx="645.9" cy="321.8" r="3.8" fill="url(#rr)"/>
<circle cx="650.2" cy="321.9" r="3.8" fill="url(#rr)"/>
<circle cx="654.5" cy="321.9" r="3.8" fill="url(#rr)"/>
<circle cx="658.8" cy="321.9" r="3.8" fill="url(#rr)"/>
<circle cx="663.2" cy="322.0" r="3.8" fill="url(#rr)"/>
<circle cx="667.5" cy="322.0" r="3.8" fill="url(#rr)"/>
<circle cx="671.8" cy="322.0" r="3.8" fill="url(#rr)"/>
<circle cx="676.1" cy="322.1" r="3.8" fill="url(#rr)"/>
<circle cx="680.4" cy="322.1" r="3.8" fill="url(#rr)"/>
<circle cx="684.8" cy="322.1" r="3.8" fill="url(#rr)"/>
<circle cx="689.1" cy="322.2" r="3.8" fill="url(#rr)"/>
<circle cx="693.4" cy="322.2" r="3.8" fill="url(#rr)"/>
</g>
<g clip-path="url(#cd)">
<polyline fill="none" stroke="#e28cbd" stroke-width="1" points="265.7,406.4 270.0,275.9 274.4,278.3 278.7,229.4 283.0,229.4 287.3,229.5 291.6,229.5 296.0,229.6 300.3,229.6 304.6,229.7 308.9,229.7 313.2,229.8 317.6,229.8 321.9,229.9 326.2,229.9 330.5,230.0 334.8,230.0 339.2,230.1 343.5,230.1 347.8,230.2 352.1,230.2 356.4,230.3 360.8,230.3 365.1,230.4 369.4,230.4 373.7,230.4 378.0,230.5 382.4,230.5 386.7,230.6 391.0,230.6 395.3,230.7 399.6,230.7 404.0,230.8 408.3,230.8 412.6,230.9 416.9,230.9 421.2,231.0 425.6,231.0 429.9,231.1 434.2,231.1 438.5,231.2 442.8,231.2 447.2,231.3 451.5,231.3 455.8,231.4 460.1,231.4 464.4,231.5 468.8,231.5 473.1,231.6 477.4,231.6 481.7,231.7 486.0,231.7 490.4,231.8 494.7,231.8 499.0,231.8 503.3,231.9 507.6,231.9 512.0,232.0 516.3,232.0 520.6,232.1 524.9,232.1 529.2,232.2 533.6,232.2 537.9,232.3 542.2,232.3 546.5,232.4 550.8,232.4 555.2,232.5 559.5,232.5 563.8,232.6 568.1,232.6 572.4,232.7 576.8,232.7 581.1,232.8 585.4,232.8 589.7,232.9 594.0,232.9 598.4,233.0 602.7,233.0 607.0,233.1 611.3,233.1 615.6,233.1 620.0,233.2 624.3,233.2 628.6,233.3 632.9,233.3 637.2,233.4 641.6,233.4 645.9,233.5 650.2,233.5 654.5,233.6 658.8,233.6 663.2,233.7 667.5,233.7 671.8,233.8 676.1,233.8 680.4,233.9 684.8,233.9 689.1,234.0 693.4,234.0"/>
<circle cx="270.0" cy="275.9" r="3.9" fill="url(#rp)"/>
<circle cx="274.4" cy="278.3" r="3.9" fill="url(#rp)"/>
<circle cx="278.7" cy="229.4" r="3.9" fill="url(#rp)"/>
<circle cx="283.0" cy="229.4" r="3.9" fill="url(#rp)"/>
<circle cx="287.3" cy="229.5" r="3.9" fill="url(#rp)"/>
<circle cx="291.6" cy="229.5" r="3.9" fill="url(#rp)"/>
<circle cx="296.0" cy="229.6" r="3.9" fill="url(#rp)"/>
<circle cx="300.3" cy="229.6" r="3.9" fill="url(#rp)"/>
<circle cx="304.6" cy="229.7" r="3.9" fill="url(#rp)"/>
<circle cx="308.9" cy="229.7" r="3.9" fill="url(#rp)"/>
<circle cx="313.2" cy="229.8" r="3.9" fill="url(#rp)"/>
<circle cx="317.6" cy="229.8" r="3.9" fill="url(#rp)"/>
<circle cx="321.9" cy="229.9" r="3.9" fill="url(#rp)"/>
<circle cx="326.2" cy="229.9" r="3.9" fill="url(#rp)"/>
<circle cx="330.5" cy="230.0" r="3.9" fill="url(#rp)"/>
<circle cx="334.8" cy="230.0" r="3.9" fill="url(#rp)"/>
<circle cx="339.2" cy="230.1" r="3.9" fill="url(#rp)"/>
<circle cx="343.5" cy="230.1" r="3.9" fill="url(#rp)"/>
<circle cx="347.8" cy="230.2" r="3.9" fill="url(#rp)"/>
<circle cx="352.1" cy="230.2" r="3.9" fill="url(#rp)"/>
<circle cx="356.4" cy="230.3" r="3.9" fill="url(#rp)"/>
<circle cx="360.8" cy="230.3" r="3.9" fill="url(#rp)"/>
<circle cx="365.1" cy="230.4" r="3.9" fill="url(#rp)"/>
<circle cx="369.4" cy="230.4" r="3.9" fill="url(#rp)"/>
<circle cx="373.7" cy="230.4" r="3.9" fill="url(#rp)"/>
<circle cx="378.0" cy="230.5" r="3.9" fill="url(#rp)"/>
<circle cx="382.4" cy="230.5" r="3.9" fill="url(#rp)"/>
<circle cx="386.7" cy="230.6" r="3.9" fill="url(#rp)"/>
<circle cx="391.0" cy="230.6" r="3.9" fill="url(#rp)"/>
<circle cx="395.3" cy="230.7" r="3.9" fill="url(#rp)"/>
<circle cx="399.6" cy="230.7" r="3.9" fill="url(#rp)"/>
<circle cx="404.0" cy="230.8" r="3.9" fill="url(#rp)"/>
<circle cx="408.3" cy="230.8" r="3.9" fill="url(#rp)"/>
<circle cx="412.6" cy="230.9" r="3.9" fill="url(#rp)"/>
<circle cx="416.9" cy="230.9" r="3.9" fill="url(#rp)"/>
<circle cx="421.2" cy="231.0" r="3.9" fill="url(#rp)"/>
<circle cx="425.6" cy="231.0" r="3.9" fill="url(#rp)"/>
<circle cx="429.9" cy="231.1" r="3.9" fill="url(#rp)"/>
<circle cx="434.2" cy="231.1" r="3.9" fill="url(#rp)"/>
<circle cx="438.5" cy="231.2" r="3.9" fill="url(#rp)"/>
<circle cx="442.8" cy="231.2" r="3.9" fill="url(#rp)"/>
<circle cx="447.2" cy="231.3" r="3.9" fill="url(#rp)"/>
<circle cx="451.5" cy="231.3" r="3.9" fill="url(#rp)"/>
<circle cx="455.8" cy="231.4" r="3.9" fill="url(#rp)"/>
<circle cx="460.1" cy="231.4" r="3.9" fill="url(#rp)"/>
<circle cx="464.4" cy="231.5" r="3.9" fill="url(#rp)"/>
<circle cx="468.8" cy="231.5" r="3.9" fill="url(#rp)"/>
<circle cx="473.1" cy="231.6" r="3.9" fill="url(#rp)"/>
<circle cx="477.4" cy="231.6" r="3.9" fill="url(#rp)"/>
<circle cx="481.7" cy="231.7" r="3.9" fill="url(#rp)"/>
<circle cx="486.0" cy="231.7" r="3.9" fill="url(#rp)"/>
<circle cx="490.4" cy="231.8" r="3.9" fill="url(#rp)"/>
<circle cx="494.7" cy="231.8" r="3.9" fill="url(#rp)"/>
<circle cx="499.0" cy="231.8" r="3.9" fill="url(#rp)"/>
<circle cx="503.3" cy="231.9" r="3.9" fill="url(#rp)"/>
<circle cx="507.6" cy="231.9" r="3.9" fill="url(#rp)"/>
<circle cx="512.0" cy="232.0" r="3.9" fill="url(#rp)"/>
<circle cx="516.3" cy="232.0" r="3.9" fill="url(#rp)"/>
<circle cx="520.6" cy="232.1" r="3.9" fill="url(#rp)"/>
<circle cx="524.9" cy="232.1" r="3.9" fill="url(#rp)"/>
<circle cx="529.2" cy="232.2" r="3.9" fill="url(#rp)"/>
<circle cx="533.6" cy="232.2" r="3.9" fill="url(#rp)"/>
<circle cx="537.9" cy="232.3" r="3.9" fill="url(#rp)"/>
<circle cx="542.2" cy="232.3" r="3.9" fill="url(#rp)"/>
<circle cx="546.5" cy="232.4" r="3.9" fill="url(#rp)"/>
<circle cx="550.8" cy="232.4" r="3.9" fill="url(#rp)"/>
<circle cx="555.2" cy="232.5" r="3.9" fill="url(#rp)"/>
<circle cx="559.5" cy="232.5" r="3.9" fill="url(#rp)"/>
<circle cx="563.8" cy="232.6" r="3.9" fill="url(#rp)"/>
<circle cx="568.1" cy="232.6" r="3.9" fill="url(#rp)"/>
<circle cx="572.4" cy="232.7" r="3.9" fill="url(#rp)"/>
<circle cx="576.8" cy="232.7" r="3.9" fill="url(#rp)"/>
<circle cx="581.1" cy="232.8" r="3.9" fill="url(#rp)"/>
<circle cx="585.4" cy="232.8" r="3.9" fill="url(#rp)"/>
<circle cx="589.7" cy="232.9" r="3.9" fill="url(#rp)"/>
<circle cx="594.0" cy="232.9" r="3.9" fill="url(#rp)"/>
<circle cx="598.4" cy="233.0" r="3.9" fill="url(#rp)"/>
<circle cx="602.7" cy="233.0" r="3.9" fill="url(#rp)"/>
<circle cx="607.0" cy="233.1" r="3.9" fill="url(#rp)"/>
<circle cx="611.3" cy="233.1" r="3.9" fill="url(#rp)"/>
<circle cx="615.6" cy="233.1" r="3.9" fill="url(#rp)"/>
<circle cx="620.0" cy="233.2" r="3.9" fill="url(#rp)"/>
<circle cx="624.3" cy="233.2" r="3.9" fill="url(#rp)"/>
<circle cx="628.6" cy="233.3" r="3.9" fill="url(#rp)"/>
<circle cx="632.9" cy="233.3" r="3.9" fill="url(#rp)"/>
<circle cx="637.2" cy="233.4" r="3.9" fill="url(#rp)"/>
<circle cx="641.6" cy="233.4" r="3.9" fill="url(#rp)"/>
<circle cx="645.9" cy="233.5" r="3.9" fill="url(#rp)"/>
<circle cx="650.2" cy="233.5" r="3.9" fill="url(#rp)"/>
<circle cx="654.5" cy="233.6" r="3.9" fill="url(#rp)"/>
<circle cx="658.8" cy="233.6" r="3.9" fill="url(#rp)"/>
<circle cx="663.2" cy="233.7" r="3.9" fill="url(#rp)"/>
<circle cx="667.5" cy="233.7" r="3.9" fill="url(#rp)"/>
<circle cx="671.8" cy="233.8" r="3.9" fill="url(#rp)"/>
<circle cx="676.1" cy="233.8" r="3.9" fill="url(#rp)"/>
<circle cx="680.4" cy="233.9" r="3.9" fill="url(#rp)"/>
<circle cx="684.8" cy="233.9" r="3.9" fill="url(#rp)"/>
<circle cx="689.1" cy="234.0" r="3.9" fill="url(#rp)"/>
<circle cx="693.4" cy="234.0" r="3.9" fill="url(#rp)"/>
</g>
<rect x="257.1" y="222.3" width="436.69999999999993" height="184.09999999999997" fill="none" stroke="#111" stroke-width="1.35"/>
<line x1="257.1" x2="261.90000000000003" y1="406.4" y2="406.4" stroke="#222" stroke-width="1"/>
<text x="252.6" y="411.4" font-size="14.2" text-anchor="end" fill="#111" stroke="#111" stroke-width="0.22" font-weight="normal" textLength="6.9" lengthAdjust="spacingAndGlyphs" >0</text>
<line x1="257.1" x2="261.90000000000003" y1="376.8" y2="376.8" stroke="#222" stroke-width="1"/>
<text x="252.6" y="381.8" font-size="14.2" text-anchor="end" fill="#111" stroke="#111" stroke-width="0.22" font-weight="normal" textLength="6.9" lengthAdjust="spacingAndGlyphs" >5</text>
<line x1="257.1" x2="261.90000000000003" y1="347.1" y2="347.1" stroke="#222" stroke-width="1"/>
<text x="252.6" y="352.1" font-size="14.2" text-anchor="end" fill="#111" stroke="#111" stroke-width="0.22" font-weight="normal" textLength="13.8" lengthAdjust="spacingAndGlyphs" >10</text>
<line x1="257.1" x2="261.90000000000003" y1="317.4" y2="317.4" stroke="#222" stroke-width="1"/>
<text x="252.6" y="322.4" font-size="14.2" text-anchor="end" fill="#111" stroke="#111" stroke-width="0.22" font-weight="normal" textLength="13.8" lengthAdjust="spacingAndGlyphs" >15</text>
<line x1="257.1" x2="261.90000000000003" y1="287.8" y2="287.8" stroke="#222" stroke-width="1"/>
<text x="252.6" y="292.8" font-size="14.2" text-anchor="end" fill="#111" stroke="#111" stroke-width="0.22" font-weight="normal" textLength="13.8" lengthAdjust="spacingAndGlyphs" >20</text>
<line x1="257.1" x2="261.90000000000003" y1="258.1" y2="258.1" stroke="#222" stroke-width="1"/>
<text x="252.6" y="263.1" font-size="14.2" text-anchor="end" fill="#111" stroke="#111" stroke-width="0.22" font-weight="normal" textLength="13.8" lengthAdjust="spacingAndGlyphs" >25</text>
<line x1="257.1" x2="261.90000000000003" y1="228.5" y2="228.5" stroke="#222" stroke-width="1"/>
<text x="252.6" y="233.5" font-size="14.2" text-anchor="end" fill="#111" stroke="#111" stroke-width="0.22" font-weight="normal" textLength="13.8" lengthAdjust="spacingAndGlyphs" >30</text>
<line x1="257.1" x2="260.1" y1="391.6" y2="391.6" stroke="#222" stroke-width="1"/>
<line x1="257.1" x2="260.1" y1="361.9" y2="361.9" stroke="#222" stroke-width="1"/>
<line x1="257.1" x2="260.1" y1="332.3" y2="332.3" stroke="#222" stroke-width="1"/>
<line x1="257.1" x2="260.1" y1="302.6" y2="302.6" stroke="#222" stroke-width="1"/>
<line x1="257.1" x2="260.1" y1="273.0" y2="273.0" stroke="#222" stroke-width="1"/>
<line x1="257.1" x2="260.1" y1="243.3" y2="243.3" stroke="#222" stroke-width="1"/>
<line x1="261.4" x2="261.4" y1="406.4" y2="401.9" stroke="#222" stroke-width="1"/>
<text x="261.4" y="423.7" font-size="15" text-anchor="middle" fill="#111" stroke="#111" stroke-width="0.22" font-weight="normal" textLength="6.6" lengthAdjust="spacingAndGlyphs" >0</text>
<line x1="477.4" x2="477.4" y1="406.4" y2="401.9" stroke="#222" stroke-width="1"/>
<text x="477.4" y="423.7" font-size="15" text-anchor="middle" fill="#111" stroke="#111" stroke-width="0.22" font-weight="normal" textLength="13.2" lengthAdjust="spacingAndGlyphs" >50</text>
<line x1="693.4" x2="693.4" y1="406.4" y2="401.9" stroke="#222" stroke-width="1"/>
<text x="693.4" y="423.7" font-size="15" text-anchor="middle" fill="#111" stroke="#111" stroke-width="0.22" font-weight="normal" textLength="19.799999999999997" lengthAdjust="spacingAndGlyphs" >100</text>
<line x1="369.4" x2="369.4" y1="406.4" y2="403.4" stroke="#222" stroke-width="1"/>
<line x1="585.4" x2="585.4" y1="406.4" y2="403.4" stroke="#222" stroke-width="1"/>
<text x="476" y="443.5" font-size="15" text-anchor="middle" fill="#111" stroke="#111" stroke-width="0.22" font-weight="normal" textLength="46" lengthAdjust="spacingAndGlyphs" >Time (s)</text>
<text x="233.2" y="315.2" font-size="14.5" text-anchor="middle" fill="#111" stroke="#111" stroke-width="0.22" font-weight="normal" transform="rotate(-90 233.2 315.2)" >PCE (%)</text>
<text x="295" y="258" font-size="14.2" text-anchor="start" fill="#e28cbd" stroke="#e28cbd" stroke-width="0.22" font-weight="normal" textLength="181" lengthAdjust="spacingAndGlyphs" >6-Terminal Tandem PCE=29.07%</text>
<text x="297.3" y="308" font-size="14.2" text-anchor="start" fill="#f4626e" stroke="#f4626e" stroke-width="0.22" font-weight="normal" textLength="153" lengthAdjust="spacingAndGlyphs" >Semi-transparent PCE=14.2%</text>
<text x="311.5" y="347.8" font-size="14.2" text-anchor="start" fill="#f58220" stroke="#f58220" stroke-width="0.22" font-weight="normal" textLength="120" lengthAdjust="spacingAndGlyphs" >MBG Filtered PCE=7.6%</text>
<text x="308" y="386" font-size="14.2" text-anchor="start" fill="#3fb24a" stroke="#3fb24a" stroke-width="0.22" font-weight="normal" textLength="129.5" lengthAdjust="spacingAndGlyphs" >NBG Filtered PCE=7.26%</text>
<text x="614.8" y="441.2" font-family="'Liberation Mono', monospace" font-size="14.8" fill="#ff5a00" stroke="#ff5a00" stroke-width="0.35" textLength="81" lengthAdjust="spacing">SOLARZOOM</text>
</g>
</svg>
</body></html>
